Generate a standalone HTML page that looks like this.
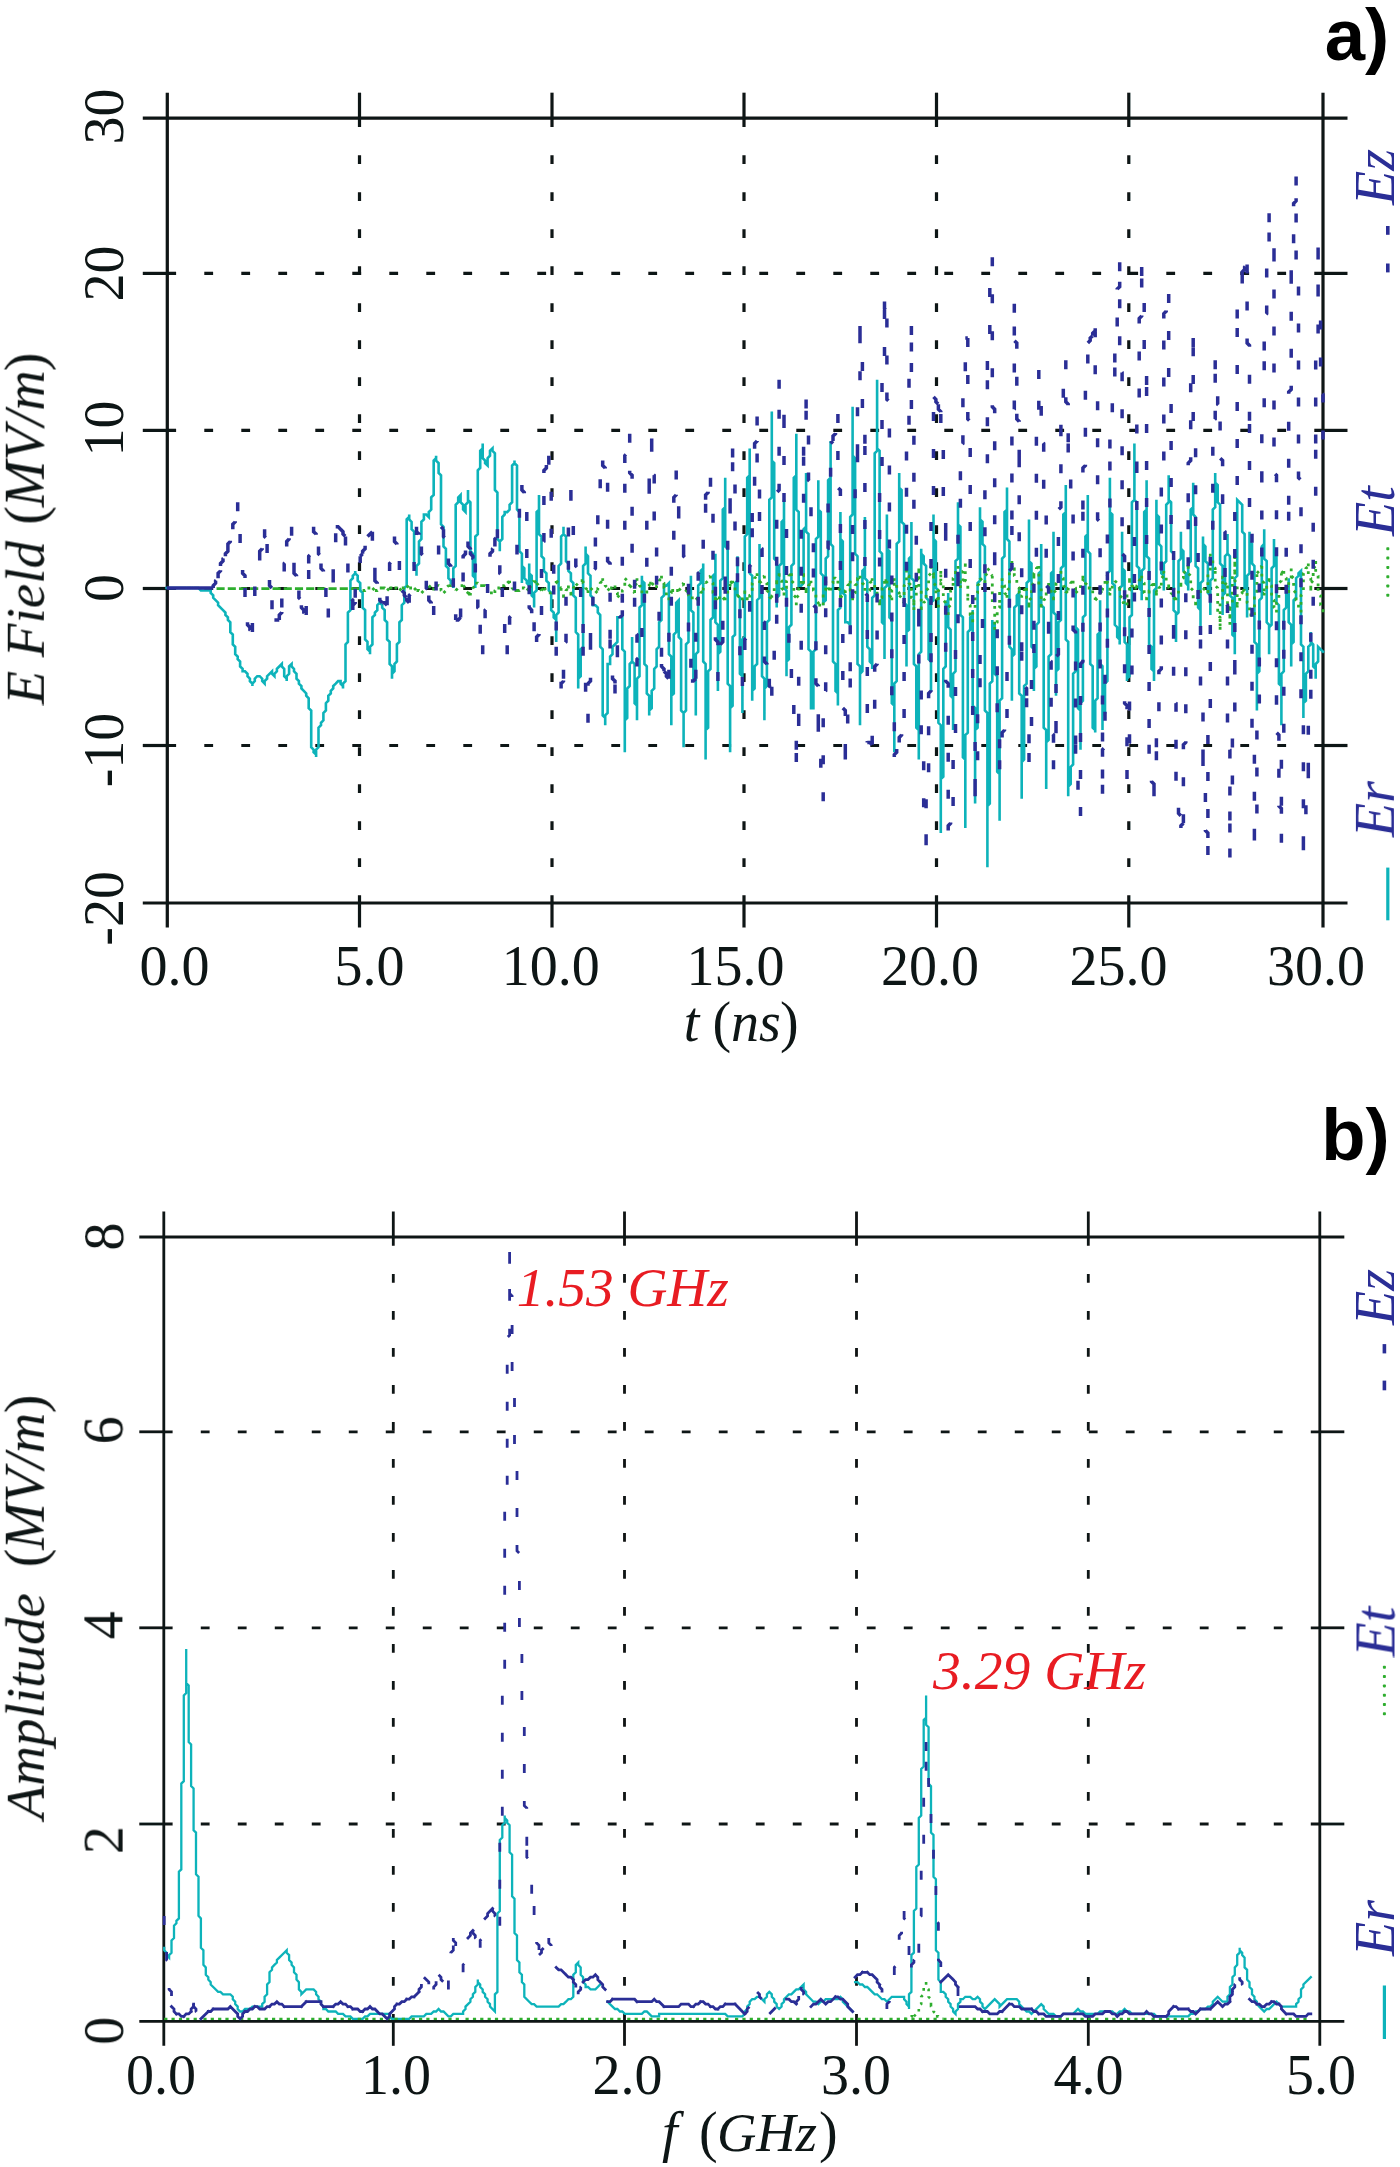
<!DOCTYPE html>
<html><head><meta charset="utf-8"><title>figure</title>
<style>html,body{margin:0;padding:0;background:#fff}svg{display:block}text{font-kerning:normal}</style>
</head><body>
<svg width="1400" height="2167" viewBox="0 0 1400 2167">
<rect width="1400" height="2167" fill="#ffffff"/>
<defs><filter id="soft" x="-2%" y="-2%" width="104%" height="104%"><feGaussianBlur stdDeviation="0.75"/></filter><filter id="soft3" x="-2%" y="-2%" width="104%" height="104%"><feGaussianBlur stdDeviation="0.4"/></filter><filter id="soft2" x="-2%" y="-2%" width="104%" height="104%"><feGaussianBlur stdDeviation="0.55"/></filter></defs>
<g id="gridA" filter="url(#soft2)">
<line x1="167.3" y1="273.4" x2="1323.0" y2="273.4" stroke="#0e1313" stroke-width="3.2" stroke-dasharray="8.8 28.20"/>
<line x1="167.3" y1="430.4" x2="1323.0" y2="430.4" stroke="#0e1313" stroke-width="3.2" stroke-dasharray="8.8 28.20"/>
<line x1="167.3" y1="588.5" x2="1323.0" y2="588.5" stroke="#0e1313" stroke-width="3.2" stroke-dasharray="8.8 28.20"/>
<line x1="167.3" y1="745.5" x2="1323.0" y2="745.5" stroke="#0e1313" stroke-width="3.2" stroke-dasharray="8.8 28.20"/>
<line x1="359.5" y1="118.2" x2="359.5" y2="903.0" stroke="#0e1313" stroke-width="3.2" stroke-dasharray="8.8 28.20"/>
<line x1="552.0" y1="118.2" x2="552.0" y2="903.0" stroke="#0e1313" stroke-width="3.2" stroke-dasharray="8.8 28.20"/>
<line x1="744.0" y1="118.2" x2="744.0" y2="903.0" stroke="#0e1313" stroke-width="3.2" stroke-dasharray="8.8 28.20"/>
<line x1="936.5" y1="118.2" x2="936.5" y2="903.0" stroke="#0e1313" stroke-width="3.2" stroke-dasharray="8.8 28.20"/>
<line x1="1128.8" y1="118.2" x2="1128.8" y2="903.0" stroke="#0e1313" stroke-width="3.2" stroke-dasharray="8.8 28.20"/>
<line x1="142.8" y1="118.2" x2="1347.5" y2="118.2" stroke="#0e1313" stroke-width="3.2"/>
<line x1="142.8" y1="903.0" x2="1347.5" y2="903.0" stroke="#0e1313" stroke-width="3.2"/>
<line x1="167.3" y1="92.7" x2="167.3" y2="927.5" stroke="#0e1313" stroke-width="3.2"/>
<line x1="1323.0" y1="92.7" x2="1323.0" y2="927.5" stroke="#0e1313" stroke-width="3.2"/>
<line x1="359.5" y1="92.7" x2="359.5" y2="118.2" stroke="#0e1313" stroke-width="3.2"/>
<line x1="359.5" y1="903.0" x2="359.5" y2="927.5" stroke="#0e1313" stroke-width="3.2"/>
<line x1="552.0" y1="92.7" x2="552.0" y2="118.2" stroke="#0e1313" stroke-width="3.2"/>
<line x1="552.0" y1="903.0" x2="552.0" y2="927.5" stroke="#0e1313" stroke-width="3.2"/>
<line x1="744.0" y1="92.7" x2="744.0" y2="118.2" stroke="#0e1313" stroke-width="3.2"/>
<line x1="744.0" y1="903.0" x2="744.0" y2="927.5" stroke="#0e1313" stroke-width="3.2"/>
<line x1="936.5" y1="92.7" x2="936.5" y2="118.2" stroke="#0e1313" stroke-width="3.2"/>
<line x1="936.5" y1="903.0" x2="936.5" y2="927.5" stroke="#0e1313" stroke-width="3.2"/>
<line x1="1128.8" y1="92.7" x2="1128.8" y2="118.2" stroke="#0e1313" stroke-width="3.2"/>
<line x1="1128.8" y1="903.0" x2="1128.8" y2="927.5" stroke="#0e1313" stroke-width="3.2"/>
<line x1="142.8" y1="273.4" x2="167.3" y2="273.4" stroke="#0e1313" stroke-width="3.2"/>
<line x1="1323.0" y1="273.4" x2="1347.5" y2="273.4" stroke="#0e1313" stroke-width="3.2"/>
<line x1="142.8" y1="430.4" x2="167.3" y2="430.4" stroke="#0e1313" stroke-width="3.2"/>
<line x1="1323.0" y1="430.4" x2="1347.5" y2="430.4" stroke="#0e1313" stroke-width="3.2"/>
<line x1="142.8" y1="588.5" x2="167.3" y2="588.5" stroke="#0e1313" stroke-width="3.2"/>
<line x1="1323.0" y1="588.5" x2="1347.5" y2="588.5" stroke="#0e1313" stroke-width="3.2"/>
<line x1="142.8" y1="745.5" x2="167.3" y2="745.5" stroke="#0e1313" stroke-width="3.2"/>
<line x1="1323.0" y1="745.5" x2="1347.5" y2="745.5" stroke="#0e1313" stroke-width="3.2"/>
</g>
<g id="gridB" filter="url(#soft2)">
<line x1="163.8" y1="1431.8" x2="1319.8" y2="1431.8" stroke="#0e1313" stroke-width="2.8" stroke-dasharray="8.8 28.20"/>
<line x1="163.8" y1="1627.8" x2="1319.8" y2="1627.8" stroke="#0e1313" stroke-width="2.8" stroke-dasharray="8.8 28.20"/>
<line x1="163.8" y1="1824.0" x2="1319.8" y2="1824.0" stroke="#0e1313" stroke-width="2.8" stroke-dasharray="8.8 28.20"/>
<line x1="393.3" y1="1237.0" x2="393.3" y2="2021.3" stroke="#0e1313" stroke-width="2.8" stroke-dasharray="8.8 28.20"/>
<line x1="624.5" y1="1237.0" x2="624.5" y2="2021.3" stroke="#0e1313" stroke-width="2.8" stroke-dasharray="8.8 28.20"/>
<line x1="856.5" y1="1237.0" x2="856.5" y2="2021.3" stroke="#0e1313" stroke-width="2.8" stroke-dasharray="8.8 28.20"/>
<line x1="1088.3" y1="1237.0" x2="1088.3" y2="2021.3" stroke="#0e1313" stroke-width="2.8" stroke-dasharray="8.8 28.20"/>
<line x1="139.3" y1="1237.0" x2="1344.3" y2="1237.0" stroke="#0e1313" stroke-width="2.8"/>
<line x1="139.3" y1="2021.3" x2="1344.3" y2="2021.3" stroke="#0e1313" stroke-width="2.8"/>
<line x1="163.8" y1="1211.5" x2="163.8" y2="2045.8" stroke="#0e1313" stroke-width="2.8"/>
<line x1="1319.8" y1="1211.5" x2="1319.8" y2="2045.8" stroke="#0e1313" stroke-width="2.8"/>
<line x1="393.3" y1="1211.5" x2="393.3" y2="1237.0" stroke="#0e1313" stroke-width="2.8"/>
<line x1="393.3" y1="2021.3" x2="393.3" y2="2045.8" stroke="#0e1313" stroke-width="2.8"/>
<line x1="624.5" y1="1211.5" x2="624.5" y2="1237.0" stroke="#0e1313" stroke-width="2.8"/>
<line x1="624.5" y1="2021.3" x2="624.5" y2="2045.8" stroke="#0e1313" stroke-width="2.8"/>
<line x1="856.5" y1="1211.5" x2="856.5" y2="1237.0" stroke="#0e1313" stroke-width="2.8"/>
<line x1="856.5" y1="2021.3" x2="856.5" y2="2045.8" stroke="#0e1313" stroke-width="2.8"/>
<line x1="1088.3" y1="1211.5" x2="1088.3" y2="1237.0" stroke="#0e1313" stroke-width="2.8"/>
<line x1="1088.3" y1="2021.3" x2="1088.3" y2="2045.8" stroke="#0e1313" stroke-width="2.8"/>
<line x1="139.3" y1="1431.8" x2="163.8" y2="1431.8" stroke="#0e1313" stroke-width="2.8"/>
<line x1="1319.8" y1="1431.8" x2="1344.3" y2="1431.8" stroke="#0e1313" stroke-width="2.8"/>
<line x1="139.3" y1="1627.8" x2="163.8" y2="1627.8" stroke="#0e1313" stroke-width="2.8"/>
<line x1="1319.8" y1="1627.8" x2="1344.3" y2="1627.8" stroke="#0e1313" stroke-width="2.8"/>
<line x1="139.3" y1="1824.0" x2="163.8" y2="1824.0" stroke="#0e1313" stroke-width="2.8"/>
<line x1="1319.8" y1="1824.0" x2="1344.3" y2="1824.0" stroke="#0e1313" stroke-width="2.8"/>
</g>
<g id="curves" filter="url(#soft)">
<path d="M166.6 588.0 L196.0 588.0 L198.5 588.0 L200.9 590.5 L210.7 590.5 L210.7 592.9 L213.2 595.4 L213.2 597.8 L215.6 600.2 L218.1 602.7 L218.1 605.2 L223.0 610.1 L225.4 612.5 L225.4 615.0 L227.9 617.4 L227.9 619.9 L230.3 622.3 L230.3 624.8 L230.3 632.1 L232.8 634.6 L232.8 639.5 L232.8 644.4 L235.2 646.8 L235.2 651.7 L235.2 654.2 L237.7 656.6 L237.7 659.1 L240.1 661.5 L240.1 666.4 L242.6 668.9 L242.6 671.3 L245.0 671.3 L247.5 673.8 L247.5 676.2 L249.9 678.7 L249.9 681.1 L252.4 683.6 L252.4 686.0 L252.4 683.6 L254.8 681.1 L254.8 678.7 L257.2 676.2 L259.7 676.2 L262.2 678.7 L262.2 681.1 L264.6 683.6 L264.6 681.1 L267.1 678.7 L267.1 676.2 L269.5 673.8 L272.0 671.3 L272.0 673.8 L274.4 676.2 L274.4 673.8 L276.9 671.3 L276.9 668.9 L281.8 664.0 L281.8 666.4 L284.2 668.9 L284.2 671.3 L284.2 676.2 L286.7 678.7 L286.7 681.1 L286.7 676.2 L289.1 673.8 L289.1 668.9 L289.1 666.4 L291.6 664.0 L291.6 666.4 L294.0 668.9 L294.0 671.3 L296.5 673.8 L296.5 678.7 L298.9 681.1 L298.9 683.6 L301.4 686.0 L301.4 688.5 L303.8 690.9 L306.2 693.4 L306.2 695.8 L308.7 698.2 L308.7 708.1 L311.2 710.5 L311.2 720.3 L311.2 727.7 L311.2 744.8 L311.2 747.2 L313.6 749.7 L313.6 752.2 L316.1 754.6 L316.1 757.1 L316.1 749.7 L318.5 747.2 L318.5 742.4 L318.5 727.7 L321.0 725.2 L321.0 722.8 L323.4 720.3 L323.4 713.0 L325.9 710.5 L325.9 705.6 L325.9 703.2 L328.3 700.7 L328.3 698.2 L328.3 695.8 L330.8 693.4 L330.8 690.9 L333.2 688.5 L333.2 686.0 L335.7 683.6 L338.1 681.1 L340.6 681.1 L340.6 683.6 L343.0 686.0 L343.0 688.5 L343.0 683.6 L345.5 681.1 L345.5 678.7 L345.5 661.5 L345.5 644.4 L347.9 641.9 L347.9 627.2 L347.9 612.5 L350.4 610.1 L350.4 597.8 L350.4 583.1 L350.4 580.7 L352.8 578.2 L352.8 575.8 L355.2 573.3 L355.2 570.9 L355.2 573.3 L357.7 575.8 L357.7 580.7 L360.2 583.1 L360.2 585.6 L360.2 590.5 L362.6 592.9 L362.6 597.8 L362.6 607.6 L365.1 610.1 L365.1 619.9 L365.1 637.0 L365.1 639.5 L367.5 641.9 L367.5 649.2 L370.0 651.7 L370.0 654.2 L370.0 646.8 L372.4 644.4 L372.4 637.0 L372.4 619.9 L372.4 617.4 L374.9 615.0 L374.9 612.5 L377.3 610.1 L377.3 607.6 L377.3 605.2 L379.8 602.7 L379.8 600.2 L379.8 602.7 L382.2 605.2 L382.2 607.6 L384.7 610.1 L384.7 612.5 L384.7 619.9 L387.1 622.3 L387.1 629.7 L387.1 639.5 L389.6 641.9 L389.6 649.2 L389.6 664.0 L392.0 666.4 L392.0 678.7 L392.0 673.8 L394.5 671.3 L394.5 668.9 L394.5 664.0 L396.9 661.5 L396.9 656.6 L396.9 644.4 L399.4 641.9 L399.4 632.1 L399.4 622.3 L401.8 619.9 L401.8 612.5 L401.8 605.2 L404.3 602.7 L404.3 597.8 L404.3 588.0 L406.7 585.6 L406.7 575.8 L406.7 551.2 L406.7 521.9 L406.7 519.4 L409.2 517.0 L409.2 514.5 L409.2 519.4 L411.6 521.9 L411.6 529.2 L414.1 531.7 L414.1 536.6 L414.1 556.2 L414.1 566.0 L416.5 568.4 L416.5 575.8 L416.5 566.0 L419.0 563.5 L419.0 553.7 L419.0 541.5 L421.4 539.0 L421.4 529.2 L421.4 521.9 L423.9 519.4 L423.9 514.5 L426.3 514.5 L428.8 517.0 L428.8 512.1 L431.2 509.6 L431.2 507.2 L431.2 497.4 L433.7 494.9 L433.7 485.1 L433.7 465.5 L433.7 460.6 L436.1 458.2 L436.1 455.7 L436.1 460.6 L438.6 463.1 L438.6 465.5 L438.6 472.9 L441.0 475.3 L441.0 482.7 L441.0 514.5 L441.0 524.3 L443.5 526.8 L443.5 534.1 L443.5 546.4 L445.9 548.8 L445.9 558.6 L445.9 566.0 L448.4 568.4 L448.4 575.8 L448.4 578.2 L450.8 580.7 L450.8 583.1 L453.3 585.6 L453.3 588.0 L453.3 568.4 L455.7 566.0 L455.7 548.8 L455.7 512.1 L455.7 504.7 L458.2 502.3 L458.2 497.4 L460.6 494.9 L460.6 502.3 L463.1 504.7 L463.1 509.6 L465.5 512.1 L465.5 504.7 L468.0 502.3 L468.0 497.4 L468.0 490.0 L468.0 499.8 L470.4 502.3 L470.4 512.1 L470.4 539.0 L470.4 551.2 L472.9 553.7 L472.9 566.0 L472.9 575.8 L475.3 578.2 L475.3 588.0 L475.3 558.6 L475.3 536.6 L477.8 534.1 L477.8 512.1 L477.8 482.7 L477.8 470.4 L480.2 468.0 L480.2 458.2 L480.2 450.8 L482.7 448.4 L482.7 443.5 L482.7 455.7 L482.7 458.2 L485.1 460.6 L485.1 463.1 L487.6 465.5 L487.6 458.2 L490.0 455.7 L490.0 450.8 L492.5 448.4 L492.5 450.8 L494.9 453.3 L494.9 455.7 L494.9 490.0 L497.4 492.5 L497.4 526.8 L497.4 539.0 L499.8 541.5 L499.8 551.2 L499.8 541.5 L502.3 539.0 L502.3 529.2 L502.3 519.4 L502.3 517.0 L504.7 514.5 L504.7 512.1 L507.2 512.1 L509.6 509.6 L509.6 504.7 L512.1 502.3 L512.1 497.4 L512.1 470.4 L512.1 465.5 L514.5 463.1 L514.5 460.6 L514.5 463.1 L517.0 465.5 L517.0 468.0 L517.0 497.4 L517.0 509.6 L519.4 512.1 L519.4 521.9 L519.4 551.2 L521.9 553.7 L521.9 583.1 L521.9 553.7 L521.9 566.0 L524.3 568.4 L524.3 578.2 L526.8 580.7 L526.8 583.1 L529.2 585.6 L529.2 563.5 L529.2 573.3 L531.7 575.8 L531.7 585.6 L531.7 595.4 L534.1 597.8 L534.1 607.6 L534.1 592.9 L536.6 590.5 L536.6 575.8 L536.6 529.2 L536.6 512.1 L539.0 509.6 L539.0 494.9 L539.0 521.9 L539.0 534.1 L541.5 536.6 L541.5 548.8 L541.5 556.2 L543.9 558.6 L543.9 566.0 L543.9 570.9 L546.4 573.3 L546.4 580.7 L548.8 583.1 L548.8 588.0 L548.8 590.5 L551.2 592.9 L551.2 607.6 L551.2 610.1 L553.7 612.5 L553.7 617.4 L556.2 619.9 L556.2 622.3 L556.2 641.9 L556.2 615.0 L558.6 612.5 L558.6 585.6 L558.6 566.0 L561.1 563.5 L561.1 543.9 L561.1 536.6 L563.5 534.1 L563.5 526.8 L563.5 534.1 L566.0 536.6 L566.0 541.5 L566.0 558.6 L566.0 561.1 L568.4 563.5 L568.4 570.9 L570.9 573.3 L570.9 575.8 L570.9 580.7 L573.3 583.1 L573.3 585.6 L573.3 595.4 L575.8 597.8 L575.8 607.6 L575.8 632.1 L578.2 634.6 L578.2 659.1 L578.2 688.5 L578.2 678.7 L580.7 676.2 L580.7 668.9 L580.7 649.2 L583.1 646.8 L583.1 629.7 L583.1 585.6 L583.1 566.0 L585.6 563.5 L585.6 546.4 L585.6 553.7 L588.0 556.2 L588.0 563.5 L588.0 573.3 L590.5 575.8 L590.5 585.6 L590.5 595.4 L592.9 597.8 L592.9 605.2 L595.4 605.2 L597.8 607.6 L597.8 612.5 L600.2 615.0 L600.2 619.9 L600.2 646.8 L602.7 649.2 L602.7 673.8 L602.7 708.1 L602.7 715.4 L605.2 717.9 L605.2 725.2 L605.2 715.4 L607.6 713.0 L607.6 705.6 L607.6 664.0 L610.1 664.0 L610.1 656.6 L612.5 654.2 L612.5 646.8 L617.4 641.9 L617.4 617.4 L619.9 617.4 L622.3 615.0 L622.3 649.2 L624.8 651.7 L624.8 686.0 L624.8 752.2 L624.8 720.3 L627.2 717.9 L627.2 688.5 L629.7 686.0 L629.7 664.0 L632.1 661.5 L632.1 639.5 L632.1 637.0 L632.1 661.5 L634.6 664.0 L634.6 688.5 L634.6 703.2 L637.0 705.6 L637.0 720.3 L637.0 678.7 L639.5 676.2 L639.5 637.0 L639.5 607.6 L641.9 605.2 L641.9 575.8 L641.9 580.7 L644.4 583.1 L644.4 585.6 L644.4 656.6 L644.4 664.0 L646.8 666.4 L646.8 673.8 L646.8 693.4 L649.2 695.8 L649.2 715.4 L649.2 710.5 L651.7 708.1 L651.7 705.6 L651.7 690.9 L654.2 688.5 L654.2 673.8 L654.2 668.9 L656.6 666.4 L656.6 664.0 L656.6 649.2 L659.1 646.8 L659.1 632.1 L659.1 622.3 L661.5 619.9 L661.5 597.8 L664.0 595.4 L664.0 585.6 L666.4 585.6 L668.9 583.1 L668.9 654.2 L671.3 656.6 L671.3 725.2 L671.3 695.8 L673.8 693.4 L673.8 634.6 L676.2 632.1 L676.2 602.7 L678.7 600.2 L678.7 637.0 L681.1 639.5 L681.1 710.5 L683.6 713.0 L683.6 747.2 L683.6 713.0 L686.0 710.5 L686.0 644.4 L688.5 641.9 L688.5 610.1 L688.5 592.9 L690.9 590.5 L690.9 575.8 L690.9 610.1 L693.4 612.5 L693.4 678.7 L695.8 681.1 L695.8 715.4 L695.8 654.2 L698.2 651.7 L698.2 590.5 L698.2 585.6 L700.7 583.1 L700.7 570.9 L703.2 568.4 L703.2 563.5 L703.2 661.5 L705.6 664.0 L705.6 759.5 L705.6 730.1 L708.1 727.7 L708.1 671.3 L710.5 668.9 L710.5 639.5 L710.5 619.9 L713.0 617.4 L713.0 575.8 L715.4 573.3 L715.4 553.7 L715.4 622.3 L717.9 624.8 L717.9 690.9 L717.9 654.2 L720.3 651.7 L720.3 580.7 L722.8 578.2 L722.8 541.5 L722.8 509.6 L725.2 507.2 L725.2 477.8 L725.2 546.4 L727.7 548.8 L727.7 683.6 L730.1 686.0 L730.1 752.2 L730.1 708.1 L732.6 705.6 L732.6 664.0 L732.6 637.0 L735.0 634.6 L735.0 583.1 L737.5 580.7 L737.5 556.2 L737.5 595.4 L739.9 597.8 L739.9 673.8 L742.4 676.2 L742.4 713.0 L742.4 639.5 L744.8 637.0 L744.8 566.0 L744.8 536.6 L747.2 534.1 L747.2 477.8 L749.7 475.3 L749.7 448.4 L749.7 573.3 L752.2 575.8 L752.2 700.7 L752.2 690.9 L754.6 688.5 L754.6 666.4 L757.1 664.0 L757.1 654.2 L757.1 600.2 L759.5 597.8 L759.5 543.9 L759.5 588.0 L762.0 590.5 L762.0 676.2 L764.4 678.7 L764.4 720.3 L764.4 688.5 L766.9 686.0 L766.9 622.3 L769.3 619.9 L769.3 588.0 L769.3 499.8 L771.8 497.4 L771.8 411.6 L771.8 460.6 L774.2 463.1 L774.2 558.6 L776.7 561.1 L776.7 607.6 L776.7 597.8 L779.1 595.4 L779.1 588.0 L779.1 566.0 L781.6 563.5 L781.6 521.9 L784.0 519.4 L784.0 499.8 L784.0 588.0 L786.5 590.5 L786.5 676.2 L786.5 661.5 L788.9 659.1 L788.9 627.2 L791.4 624.8 L791.4 610.1 L791.4 566.0 L793.8 563.5 L793.8 477.8 L796.3 475.3 L796.3 433.7 L796.3 509.6 L798.7 512.1 L798.7 585.6 L801.2 585.6 L803.6 583.1 L803.6 529.2 L806.1 526.8 L806.1 472.9 L806.1 531.7 L808.5 534.1 L808.5 649.2 L811.0 651.7 L811.0 708.1 L813.4 708.1 L813.4 651.7 L815.9 649.2 L815.9 539.0 L818.3 536.6 L818.3 480.2 L818.3 509.6 L820.8 512.1 L820.8 573.3 L823.2 575.8 L823.2 605.2 L823.2 602.7 L825.7 600.2 L825.7 597.8 L825.7 558.6 L828.1 556.2 L828.1 480.2 L830.6 477.8 L830.6 441.0 L830.6 543.9 L833.0 546.4 L833.0 649.2 L833.0 661.5 L835.5 664.0 L835.5 690.9 L837.9 693.4 L837.9 705.6 L837.9 610.1 L840.4 607.6 L840.4 512.1 L840.4 539.0 L842.8 541.5 L842.8 592.9 L845.3 595.4 L845.3 622.3 L847.7 622.3 L850.2 624.8 L850.2 517.0 L852.6 514.5 L852.6 406.7 L852.6 455.7 L855.1 458.2 L855.1 553.7 L857.5 556.2 L857.5 602.7 L857.5 664.0 L860.0 666.4 L860.0 725.2 L860.0 673.8 L862.4 671.3 L862.4 570.9 L864.9 568.4 L864.9 517.0 L864.9 578.2 L867.3 580.7 L867.3 641.9 L867.3 646.8 L869.8 649.2 L869.8 661.5 L872.2 664.0 L872.2 668.9 L872.2 597.8 L874.7 595.4 L874.7 453.3 L877.1 450.8 L877.1 379.8 L877.1 448.4 L879.6 450.8 L879.6 517.0 L879.6 551.2 L882.0 553.7 L882.0 622.3 L884.5 624.8 L884.5 659.1 L884.5 588.0 L886.9 585.6 L886.9 514.5 L886.9 548.8 L889.4 551.2 L889.4 617.4 L891.8 619.9 L891.8 654.2 L891.8 703.2 L894.3 705.6 L894.3 752.2 L894.3 683.6 L896.7 681.1 L896.7 543.9 L899.2 541.5 L899.2 472.9 L899.2 487.6 L901.6 490.0 L901.6 521.9 L904.1 524.3 L904.1 539.0 L904.1 602.7 L906.5 605.2 L906.5 666.4 L906.5 632.1 L909.0 629.7 L909.0 558.6 L911.4 556.2 L911.4 521.9 L911.4 578.2 L913.9 580.7 L913.9 634.6 L913.9 664.0 L916.3 666.4 L916.3 727.7 L918.8 730.1 L918.8 759.5 L918.8 654.2 L921.2 651.7 L921.2 548.8 L921.2 553.7 L923.7 556.2 L923.7 563.5 L926.1 566.0 L926.1 568.4 L926.1 597.8 L928.6 600.2 L928.6 659.1 L931.0 661.5 L931.0 690.9 L931.0 602.7 L933.5 600.2 L933.5 514.5 L933.5 539.0 L935.9 541.5 L935.9 588.0 L938.4 590.5 L938.4 612.5 L938.4 722.8 L940.8 725.2 L940.8 833.0 L940.8 779.1 L943.3 776.7 L943.3 668.9 L945.7 666.4 L945.7 612.5 L945.7 602.7 L948.2 600.2 L948.2 592.9 L948.2 627.2 L950.6 629.7 L950.6 695.8 L953.1 698.2 L953.1 730.1 L953.1 673.8 L955.5 671.3 L955.5 561.1 L958.0 558.6 L958.0 502.3 L958.0 524.3 L960.4 526.8 L960.4 546.4 L960.4 615.0 L962.9 617.4 L962.9 757.1 L965.3 759.5 L965.3 828.1 L965.3 735.0 L967.8 732.6 L967.8 639.5 L967.8 632.1 L970.2 629.7 L970.2 617.4 L972.7 615.0 L972.7 610.1 L972.7 705.6 L975.1 708.1 L975.1 803.6 L975.1 730.1 L977.6 727.7 L977.6 583.1 L980.0 580.7 L980.0 507.2 L980.0 519.4 L982.5 521.9 L982.5 543.9 L984.9 546.4 L984.9 556.2 L984.9 710.5 L987.4 713.0 L987.4 867.3 L987.4 806.1 L989.8 803.6 L989.8 683.6 L992.3 681.1 L992.3 619.9 L992.3 622.3 L994.7 624.8 L994.7 673.8 L997.2 676.2 L997.2 771.8 L999.6 774.2 L999.6 820.8 L999.6 700.7 L1002.1 698.2 L1002.1 580.7 L1002.1 558.6 L1004.5 556.2 L1004.5 512.1 L1007.0 509.6 L1007.0 487.6 L1007.0 539.0 L1009.4 541.5 L1009.4 646.8 L1011.9 649.2 L1011.9 700.7 L1011.9 656.6 L1014.3 654.2 L1014.3 612.5 L1014.3 607.6 L1016.8 605.2 L1016.8 595.4 L1019.2 592.9 L1019.2 588.0 L1019.2 693.4 L1021.7 695.8 L1021.7 798.7 L1021.7 762.0 L1024.1 759.5 L1024.1 686.0 L1026.6 683.6 L1026.6 646.8 L1026.6 583.1 L1029.0 580.7 L1029.0 519.4 L1029.0 561.1 L1031.5 563.5 L1031.5 646.8 L1033.9 649.2 L1033.9 690.9 L1033.9 668.9 L1036.4 666.4 L1036.4 624.8 L1038.8 622.3 L1038.8 602.7 L1038.8 573.3 L1041.2 570.9 L1041.2 543.9 L1041.2 605.2 L1043.7 607.6 L1043.7 727.7 L1046.2 730.1 L1046.2 788.9 L1046.2 742.4 L1048.6 739.9 L1048.6 695.8 L1048.6 656.6 L1051.1 654.2 L1051.1 573.3 L1053.5 570.9 L1053.5 531.7 L1053.5 612.5 L1056.0 615.0 L1056.0 695.8 L1056.0 671.3 L1058.4 668.9 L1058.4 622.3 L1060.9 619.9 L1060.9 595.4 L1060.9 568.4 L1063.3 566.0 L1063.3 514.5 L1065.8 512.1 L1065.8 485.1 L1065.8 639.5 L1068.2 641.9 L1068.2 796.3 L1068.2 786.5 L1070.7 784.0 L1070.7 766.9 L1073.1 764.4 L1073.1 757.1 L1073.1 673.8 L1075.6 671.3 L1075.6 588.0 L1075.6 627.2 L1078.0 629.7 L1078.0 708.1 L1080.5 710.5 L1080.5 749.7 L1080.5 703.2 L1082.9 700.7 L1082.9 656.6 L1082.9 617.4 L1085.4 615.0 L1085.4 536.6 L1087.8 534.1 L1087.8 494.9 L1087.8 551.2 L1090.2 553.7 L1090.2 664.0 L1092.7 666.4 L1092.7 722.8 L1092.7 727.7 L1095.2 730.1 L1095.2 732.6 L1095.2 700.7 L1097.6 698.2 L1097.6 634.6 L1100.1 632.1 L1100.1 600.2 L1100.1 664.0 L1102.5 666.4 L1102.5 730.1 L1102.5 715.4 L1105.0 713.0 L1105.0 683.6 L1107.4 681.1 L1107.4 666.4 L1107.4 573.3 L1109.9 570.9 L1109.9 477.8 L1109.9 512.1 L1112.3 514.5 L1112.3 583.1 L1114.8 585.6 L1114.8 619.9 L1114.8 624.8 L1117.2 627.2 L1117.2 637.0 L1119.7 639.5 L1119.7 644.4 L1119.7 588.0 L1122.1 585.6 L1122.1 531.7 L1122.1 568.4 L1124.6 570.9 L1124.6 641.9 L1127.0 644.4 L1127.0 681.1 L1127.0 678.7 L1129.5 676.2 L1129.5 673.8 L1129.5 617.4 L1131.9 615.0 L1131.9 502.3 L1134.4 499.8 L1134.4 443.5 L1134.4 499.8 L1136.8 502.3 L1136.8 556.2 L1136.8 566.0 L1139.2 568.4 L1139.2 588.0 L1141.7 590.5 L1141.7 600.2 L1141.7 570.9 L1144.2 568.4 L1144.2 512.1 L1146.6 509.6 L1146.6 480.2 L1146.6 556.2 L1149.1 558.6 L1149.1 634.6 L1149.1 644.4 L1151.5 646.8 L1151.5 668.9 L1154.0 671.3 L1154.0 681.1 L1154.0 590.5 L1156.4 588.0 L1156.4 499.8 L1156.4 514.5 L1158.9 517.0 L1158.9 543.9 L1161.3 546.4 L1161.3 558.6 L1161.3 573.3 L1163.8 575.8 L1163.8 590.5 L1163.8 563.5 L1166.2 561.1 L1166.2 504.7 L1168.7 502.3 L1168.7 475.3 L1168.7 499.8 L1171.1 502.3 L1171.1 551.2 L1173.6 553.7 L1173.6 578.2 L1173.6 610.1 L1176.0 612.5 L1176.0 641.9 L1176.0 615.0 L1178.5 612.5 L1178.5 561.1 L1180.9 558.6 L1180.9 531.7 L1180.9 548.8 L1183.4 551.2 L1183.4 566.0 L1183.4 570.9 L1185.8 573.3 L1185.8 583.1 L1188.2 585.6 L1188.2 590.5 L1188.2 563.5 L1190.7 561.1 L1190.7 509.6 L1193.2 507.2 L1193.2 482.7 L1193.2 514.5 L1195.6 517.0 L1195.6 546.4 L1195.6 566.0 L1198.1 568.4 L1198.1 607.6 L1200.5 610.1 L1200.5 629.7 L1200.5 583.1 L1203.0 580.7 L1203.0 536.6 L1203.0 543.9 L1205.4 546.4 L1205.4 561.1 L1207.9 563.5 L1207.9 570.9 L1207.9 592.9 L1210.3 595.4 L1210.3 615.0 L1210.3 580.7 L1212.8 578.2 L1212.8 509.6 L1215.2 507.2 L1215.2 472.9 L1215.2 482.7 L1217.7 485.1 L1217.7 502.3 L1220.1 504.7 L1220.1 512.1 L1220.1 563.5 L1222.6 566.0 L1222.6 615.0 L1222.6 595.4 L1225.0 592.9 L1225.0 556.2 L1227.5 553.7 L1227.5 534.1 L1227.5 553.7 L1229.9 556.2 L1229.9 575.8 L1229.9 595.4 L1232.4 597.8 L1232.4 634.6 L1234.8 637.0 L1234.8 654.2 L1234.8 578.2 L1237.2 575.8 L1237.2 499.8 L1242.2 504.7 L1242.2 531.7 L1244.6 534.1 L1244.6 588.0 L1247.1 590.5 L1247.1 617.4 L1247.1 575.8 L1249.5 573.3 L1249.5 531.7 L1249.5 541.5 L1252.0 543.9 L1252.0 563.5 L1254.4 566.0 L1254.4 575.8 L1254.4 641.9 L1256.9 644.4 L1256.9 710.5 L1256.9 673.8 L1259.3 671.3 L1259.3 600.2 L1261.8 597.8 L1261.8 563.5 L1261.8 546.4 L1264.2 543.9 L1264.2 529.2 L1264.2 558.6 L1266.7 561.1 L1266.7 622.3 L1269.1 624.8 L1269.1 654.2 L1269.1 627.2 L1271.6 624.8 L1271.6 568.4 L1274.0 566.0 L1274.0 539.0 L1274.0 551.2 L1276.5 553.7 L1276.5 563.5 L1276.5 602.7 L1278.9 605.2 L1278.9 683.6 L1281.4 686.0 L1281.4 725.2 L1281.4 673.8 L1283.8 671.3 L1283.8 619.9 L1283.8 610.1 L1286.2 607.6 L1286.2 590.5 L1288.7 588.0 L1288.7 578.2 L1288.7 622.3 L1291.2 624.8 L1291.2 666.4 L1291.2 644.4 L1293.6 641.9 L1293.6 600.2 L1296.1 597.8 L1296.1 578.2 L1298.5 575.8 L1298.5 573.3 L1301.0 570.9 L1301.0 644.4 L1303.4 646.8 L1303.4 717.9 L1303.4 703.2 L1305.9 700.7 L1305.9 673.8 L1308.3 671.3 L1308.3 659.1 L1308.3 646.8 L1310.8 644.4 L1310.8 632.1 L1310.8 641.9 L1313.2 644.4 L1313.2 666.4 L1315.7 668.9 L1315.7 678.7 L1315.7 664.0 L1318.1 661.5 L1318.1 646.8 L1323.0 651.7" fill="none" stroke="#0ab3ba" stroke-width="2.6" stroke-linejoin="miter" stroke-linecap="square"/>
<path d="M218.0 588.6 L362.0 588.6" fill="none" stroke="#2fae2f" stroke-width="2.9" stroke-linejoin="miter" stroke-linecap="square" stroke-dasharray="5.2 6"/>
<path d="M362.6 590.5L365.1 590.5L367.5 588.0M367.5 588.0L372.4 588.0M372.4 588.0L374.9 590.5M374.9 590.5L377.3 590.5L379.8 588.0M379.8 588.0L382.2 588.0M382.2 588.0L384.7 588.0L387.1 590.5M387.1 590.5L389.6 588.0M389.6 588.0L394.5 588.0M394.5 588.0L396.9 588.0L399.4 590.5M399.4 590.5L401.8 588.0M401.8 588.0L404.3 588.0L406.7 585.6M406.7 585.6L409.2 588.0M409.2 588.0L414.1 588.0M414.1 588.0L416.5 590.5M416.5 590.5L419.0 590.5L421.4 592.9M421.4 592.9L426.3 588.0M426.3 588.0L428.8 585.6M428.8 585.6L433.7 590.5M433.7 590.5L433.7 588.0L436.1 585.6M436.1 585.6L438.6 585.6L441.0 588.0M441.0 588.0L441.0 590.5L443.5 592.9M443.5 592.9L445.9 590.5L445.9 588.0L448.4 585.6M448.4 585.6L450.8 585.6L453.3 583.1M453.3 583.1L453.3 585.6L455.7 588.0L455.7 590.5M455.7 590.5L460.6 585.6M460.6 585.6L463.1 585.6M463.1 585.6L465.5 588.0L465.5 590.5L468.0 592.9M468.0 592.9L470.4 595.4M470.4 595.4L470.4 592.9L472.9 590.5L472.9 588.0L475.3 585.6L475.3 583.1M475.3 583.1L477.8 583.1L480.2 585.6M480.2 585.6L482.7 585.6M482.7 585.6L485.1 585.6L487.6 588.0M487.6 588.0L487.6 590.5L490.0 592.9M490.0 592.9L494.9 592.9M494.9 592.9L494.9 590.5L497.4 588.0M497.4 588.0L499.8 588.0L502.3 585.6M502.3 585.6L504.7 585.6L507.2 583.1M507.2 583.1L509.6 580.7M509.6 580.7L509.6 583.1L512.1 585.6L512.1 588.0L514.5 590.5M514.5 590.5L517.0 590.5M517.0 590.5L519.4 590.5L521.9 588.0M521.9 588.0L524.3 588.0L526.8 590.5M526.8 590.5L529.2 588.0M529.2 588.0L531.7 585.6L531.7 583.1L534.1 580.7M534.1 580.7L536.6 583.1M536.6 583.1L539.0 585.6L539.0 588.0L541.5 590.5M541.5 590.5L543.9 588.0M543.9 588.0L548.8 592.9M548.8 592.9L551.2 592.9L553.7 590.5M553.7 590.5L553.7 585.6L556.2 583.1L556.2 580.7M556.2 580.7L558.6 583.1L558.6 585.6L561.1 588.0M561.1 588.0L561.1 592.9L563.5 595.4L563.5 597.8M563.5 597.8L563.5 595.4L566.0 592.9L566.0 590.5L568.4 588.0L568.4 585.6M568.4 585.6L568.4 590.5L570.9 592.9L570.9 595.4M570.9 595.4L570.9 592.9L573.3 590.5L573.3 588.0L575.8 585.6M575.8 585.6L580.7 580.7M580.7 580.7L583.1 580.7M583.1 580.7L583.1 583.1L585.6 585.6L585.6 588.0L588.0 590.5L588.0 592.9M588.0 592.9L588.0 590.5L590.5 588.0M590.5 588.0L595.4 592.9M595.4 592.9L597.8 590.5M597.8 590.5L597.8 588.0L600.2 585.6L600.2 583.1L602.7 580.7L602.7 578.2M602.7 578.2L602.7 580.7L605.2 583.1L605.2 585.6L607.6 588.0L607.6 590.5M607.6 590.5L610.1 588.0M610.1 588.0L612.5 588.0L615.0 585.6M615.0 585.6L615.0 590.5L617.4 592.9L617.4 595.4M617.4 595.4L622.3 600.2M622.3 600.2L622.3 590.5L624.8 588.0L624.8 578.2M624.8 578.2L627.2 580.7L627.2 583.1L629.7 585.6M629.7 585.6L632.1 588.0L632.1 590.5L634.6 592.9M634.6 592.9L634.6 585.6L637.0 583.1L637.0 578.2M637.0 578.2L637.0 580.7L639.5 583.1L639.5 585.6L641.9 588.0L641.9 590.5M641.9 590.5L641.9 595.4L644.4 597.8L644.4 600.2M644.4 600.2L644.4 597.8L646.8 595.4L646.8 588.0L649.2 585.6L649.2 583.1M649.2 583.1L651.7 583.1M651.7 583.1L656.6 588.0M656.6 588.0L656.6 585.6L659.1 583.1L659.1 580.7L661.5 578.2L661.5 575.8M661.5 575.8L661.5 580.7L664.0 583.1L664.0 585.6M664.0 585.6L664.0 588.0L666.4 590.5L666.4 595.4L668.9 597.8L668.9 600.2M668.9 600.2L668.9 595.4L671.3 592.9L671.3 590.5M671.3 590.5L676.2 590.5M676.2 590.5L678.7 590.5M678.7 590.5L681.1 588.0L681.1 585.6L683.6 583.1M683.6 583.1L683.6 585.6L686.0 588.0L686.0 590.5L688.5 592.9M688.5 592.9L688.5 595.4L690.9 597.8M690.9 597.8L695.8 597.8M695.8 597.8L698.2 600.2M698.2 600.2L698.2 597.8L700.7 595.4L700.7 592.9L703.2 590.5M703.2 590.5L703.2 588.0L705.6 585.6L705.6 583.1M705.6 583.1L708.1 580.7L708.1 578.2L710.5 575.8M710.5 575.8L710.5 580.7L713.0 583.1L713.0 592.9L715.4 595.4L715.4 600.2M715.4 600.2L717.9 597.8M717.9 597.8L722.8 597.8M722.8 597.8L725.2 600.2M725.2 600.2L725.2 597.8L727.7 595.4L727.7 588.0L730.1 585.6L730.1 583.1M730.1 583.1L732.6 580.7M732.6 580.7L732.6 583.1L735.0 585.6L735.0 590.5L737.5 592.9L737.5 595.4M737.5 595.4L742.4 600.2M742.4 600.2L742.4 595.4L744.8 592.9L744.8 590.5M744.8 590.5L744.8 592.9L747.2 595.4L747.2 600.2L749.7 602.7L749.7 605.2M749.7 605.2L749.7 595.4L752.2 592.9L752.2 585.6M752.2 585.6L752.2 583.1L754.6 580.7L754.6 578.2L757.1 575.8L757.1 573.3M757.1 573.3L757.1 578.2L759.5 580.7L759.5 583.1M759.5 583.1L762.0 580.7L762.0 578.2L764.4 575.8M764.4 575.8L764.4 580.7L766.9 583.1L766.9 590.5L769.3 592.9L769.3 597.8M769.3 597.8L771.8 597.8M771.8 597.8L771.8 595.4L774.2 592.9L774.2 588.0L776.7 585.6L776.7 583.1M776.7 583.1L776.7 578.2L779.1 575.8L779.1 573.3M779.1 573.3L779.1 578.2L781.6 580.7L781.6 588.0L784.0 590.5L784.0 595.4M784.0 595.4L784.0 590.5L786.5 588.0L786.5 583.1M786.5 583.1L786.5 580.7L788.9 578.2L788.9 575.8L791.4 573.3M791.4 573.3L791.4 580.7L793.8 583.1L793.8 595.4L796.3 597.8L796.3 605.2M796.3 605.2L796.3 597.8L798.7 595.4L798.7 590.5M798.7 590.5L798.7 588.0L801.2 585.6L801.2 578.2L803.6 575.8L803.6 573.3M803.6 573.3L803.6 583.1L806.1 585.6L806.1 592.9M806.1 592.9L806.1 590.5L808.5 588.0L808.5 585.6L811.0 583.1L811.0 580.7M811.0 580.7L811.0 583.1L813.4 585.6L813.4 588.0M813.4 588.0L813.4 590.5L815.9 592.9L815.9 600.2L818.3 602.7L818.3 605.2M818.3 605.2L823.2 605.2M823.2 605.2L823.2 592.9L825.7 590.5L825.7 580.7M825.7 580.7L825.7 583.1L828.1 585.6L828.1 588.0L830.6 590.5M830.6 590.5L830.6 585.6L833.0 583.1L833.0 578.2M833.0 578.2L835.5 578.2L837.9 580.7M837.9 580.7L837.9 588.0L840.4 590.5L840.4 597.8M840.4 597.8L845.3 592.9M845.3 592.9L845.3 590.5L847.7 588.0L847.7 585.6L850.2 583.1L850.2 580.7M850.2 580.7L850.2 590.5L852.6 592.9L852.6 600.2M852.6 600.2L852.6 595.4L855.1 592.9L855.1 585.6L857.5 583.1L857.5 580.7M857.5 580.7L857.5 578.2L860.0 575.8M860.0 575.8L860.0 578.2L862.4 580.7L862.4 583.1L864.9 585.6L864.9 588.0M864.9 588.0L864.9 592.9L867.3 595.4L867.3 597.8M867.3 597.8L867.3 592.9L869.8 590.5L869.8 583.1L872.2 580.7L872.2 578.2M872.2 578.2L872.2 580.7L874.7 583.1L874.7 588.0L877.1 590.5L877.1 592.9M877.1 592.9L877.1 597.8L879.6 600.2L879.6 605.2M879.6 605.2L879.6 600.2L882.0 597.8L882.0 588.0L884.5 585.6L884.5 580.7M884.5 580.7L886.9 580.7M886.9 580.7L886.9 585.6L889.4 588.0L889.4 595.4L891.8 597.8L891.8 600.2M891.8 600.2L891.8 590.5L894.3 588.0L894.3 578.2M894.3 578.2L894.3 580.7L896.7 583.1L896.7 590.5L899.2 592.9L899.2 595.4M899.2 595.4L901.6 597.8L901.6 600.2L904.1 602.7M904.1 602.7L904.1 585.6L906.5 583.1L906.5 568.4M906.5 568.4L906.5 573.3L909.0 575.8L909.0 583.1L911.4 585.6L911.4 588.0M911.4 588.0L911.4 597.8L913.9 600.2L913.9 610.1M913.9 610.1L913.9 600.2L916.3 597.8L916.3 580.7L918.8 578.2L918.8 568.4M918.8 568.4L918.8 588.0L921.2 590.5L921.2 610.1M921.2 610.1L921.2 607.6L923.7 605.2L923.7 602.7L926.1 600.2L926.1 597.8M926.1 597.8L926.1 590.5L928.6 588.0L928.6 575.8L931.0 573.3L931.0 566.0M931.0 566.0L931.0 570.9L933.5 573.3L933.5 575.8M933.5 575.8L933.5 583.1L935.9 585.6L935.9 597.8L938.4 600.2L938.4 607.6M938.4 607.6L938.4 590.5L940.8 588.0L940.8 570.9M940.8 570.9L940.8 580.7L943.3 583.1L943.3 600.2L945.7 602.7L945.7 612.5M945.7 612.5L948.2 615.0M948.2 615.0L948.2 607.6L950.6 605.2L950.6 590.5L953.1 588.0L953.1 580.7M953.1 580.7L953.1 578.2L955.5 575.8L955.5 570.9L958.0 568.4L958.0 566.0M958.0 566.0L958.0 575.8L960.4 578.2L960.4 588.0M960.4 588.0L960.4 583.1L962.9 580.7L962.9 570.9L965.3 568.4L965.3 563.5M965.3 563.5L965.3 580.7L967.8 583.1L967.8 597.8M967.8 597.8L967.8 602.7L970.2 605.2L970.2 615.0L972.7 617.4L972.7 622.3M972.7 622.3L972.7 612.5L975.1 610.1L975.1 600.2M975.1 600.2L975.1 595.4L977.6 592.9L977.6 585.6L980.0 583.1L980.0 578.2M980.0 578.2L984.9 583.1M984.9 583.1L984.9 575.8L987.4 573.3L987.4 568.4M987.4 568.4L989.8 570.9L989.8 573.3L992.3 575.8M992.3 575.8L992.3 602.7L994.7 605.2L994.7 629.7M994.7 629.7L994.7 624.8L997.2 622.3L997.2 610.1L999.6 607.6L999.6 602.7M999.6 602.7L999.6 590.5L1002.1 588.0L1002.1 578.2M1002.1 578.2L1002.1 583.1L1004.5 585.6L1004.5 592.9L1007.0 595.4L1007.0 597.8M1007.0 597.8L1007.0 590.5L1009.4 588.0L1009.4 570.9L1011.9 568.4L1011.9 561.1M1011.9 561.1L1011.9 566.0L1014.3 568.4L1014.3 573.3M1014.3 573.3L1014.3 575.8L1016.8 578.2L1016.8 585.6L1019.2 588.0L1019.2 590.5M1019.2 590.5L1019.2 592.9L1021.7 595.4L1021.7 597.8M1021.7 597.8L1021.7 595.4L1024.1 592.9L1024.1 590.5L1026.6 588.0M1026.6 588.0L1026.6 597.8L1029.0 600.2L1029.0 607.6M1029.0 607.6L1029.0 600.2L1031.5 597.8L1031.5 585.6L1033.9 583.1L1033.9 575.8M1033.9 575.8L1033.9 573.3L1036.4 570.9L1036.4 568.4L1038.8 566.0M1038.8 566.0L1038.8 585.6L1041.2 588.0L1041.2 607.6M1041.2 607.6L1041.2 605.2L1043.7 602.7L1043.7 600.2L1046.2 597.8L1046.2 595.4M1046.2 595.4L1046.2 590.5L1048.6 588.0L1048.6 583.1M1048.6 583.1L1048.6 585.6L1051.1 588.0L1051.1 595.4L1053.5 597.8L1053.5 600.2M1053.5 600.2L1053.5 592.9L1056.0 590.5L1056.0 585.6M1056.0 585.6L1056.0 583.1L1058.4 580.7L1058.4 575.8L1060.9 573.3L1060.9 570.9M1060.9 570.9L1060.9 575.8L1063.3 578.2L1063.3 585.6L1065.8 588.0L1065.8 592.9M1065.8 592.9L1068.2 590.5M1068.2 590.5L1068.2 588.0L1070.7 585.6L1070.7 583.1L1073.1 580.7M1073.1 580.7L1073.1 585.6L1075.6 588.0L1075.6 592.9M1075.6 592.9L1080.5 588.0M1080.5 588.0L1080.5 583.1L1082.9 580.7L1082.9 575.8M1082.9 575.8L1082.9 578.2L1085.4 580.7L1085.4 583.1L1087.8 585.6L1087.8 588.0M1087.8 588.0L1090.2 588.0L1092.7 590.5M1092.7 590.5L1092.7 595.4L1095.2 597.8L1095.2 600.2M1095.2 600.2L1097.6 597.8L1097.6 595.4L1100.1 592.9M1100.1 592.9L1102.5 590.5M1102.5 590.5L1102.5 588.0L1105.0 585.6L1105.0 578.2L1107.4 575.8L1107.4 573.3M1107.4 573.3L1107.4 583.1L1109.9 585.6L1109.9 595.4M1109.9 595.4L1109.9 592.9L1112.3 590.5L1112.3 585.6L1114.8 583.1L1114.8 580.7M1114.8 580.7L1117.2 583.1L1117.2 585.6L1119.7 588.0M1119.7 588.0L1119.7 595.4L1122.1 597.8L1122.1 602.7M1122.1 602.7L1124.6 602.7L1127.0 605.2M1127.0 605.2L1127.0 592.9L1129.5 590.5L1129.5 578.2M1129.5 578.2L1129.5 580.7L1131.9 583.1L1131.9 585.6L1134.4 588.0M1134.4 588.0L1136.8 588.0M1136.8 588.0L1136.8 585.6L1139.2 583.1L1139.2 580.7L1141.7 578.2L1141.7 575.8M1141.7 575.8L1141.7 580.7L1144.2 583.1L1144.2 592.9L1146.6 595.4L1146.6 600.2M1146.6 600.2L1146.6 597.8L1149.1 595.4L1149.1 592.9M1149.1 592.9L1149.1 590.5L1151.5 588.0L1151.5 585.6L1154.0 583.1M1154.0 583.1L1154.0 588.0L1156.4 590.5L1156.4 595.4M1156.4 595.4L1156.4 592.9L1158.9 590.5L1158.9 588.0L1161.3 585.6M1161.3 585.6L1161.3 578.2L1163.8 575.8L1163.8 570.9M1163.8 570.9L1163.8 573.3L1166.2 575.8L1166.2 580.7L1168.7 583.1L1168.7 585.6M1168.7 585.6L1168.7 588.0L1171.1 590.5L1171.1 592.9L1173.6 595.4L1173.6 597.8M1173.6 597.8L1176.0 600.2M1176.0 600.2L1176.0 597.8L1178.5 595.4L1178.5 590.5L1180.9 588.0L1180.9 585.6M1180.9 585.6L1180.9 580.7L1183.4 578.2L1183.4 573.3M1183.4 573.3L1185.8 570.9L1185.8 568.4L1188.2 566.0M1188.2 566.0L1188.2 573.3L1190.7 575.8L1190.7 588.0L1193.2 590.5L1193.2 595.4M1193.2 595.4L1193.2 600.2L1195.6 602.7L1195.6 605.2M1195.6 605.2L1195.6 602.7L1198.1 600.2L1198.1 597.8L1200.5 595.4L1200.5 592.9M1200.5 592.9L1200.5 590.5L1203.0 588.0M1203.0 588.0L1207.9 592.9M1207.9 592.9L1207.9 573.3L1210.3 570.9L1210.3 553.7M1210.3 553.7L1210.3 556.2L1212.8 558.6L1212.8 566.0L1215.2 568.4L1215.2 570.9M1215.2 570.9L1215.2 585.6L1217.7 588.0L1217.7 615.0L1220.1 617.4L1220.1 629.7M1220.1 629.7L1220.1 602.7L1222.6 600.2L1222.6 575.8M1222.6 575.8L1222.6 578.2L1225.0 580.7L1225.0 583.1L1227.5 585.6M1227.5 585.6L1227.5 605.2L1229.9 607.6L1229.9 624.8M1229.9 624.8L1229.9 607.6L1232.4 605.2L1232.4 573.3L1234.8 570.9L1234.8 556.2M1234.8 556.2L1234.8 580.7L1237.2 583.1L1237.2 607.6M1237.2 607.6L1237.2 605.2L1239.7 602.7L1239.7 595.4L1242.2 592.9L1242.2 590.5M1242.2 590.5L1244.6 590.5L1247.1 592.9M1247.1 592.9L1247.1 602.7L1249.5 605.2L1249.5 615.0M1249.5 615.0L1254.4 615.0M1254.4 615.0L1254.4 595.4L1256.9 592.9L1256.9 573.3M1256.9 573.3L1259.3 570.9L1259.3 568.4L1261.8 566.0M1261.8 566.0L1261.8 580.7L1264.2 583.1L1264.2 595.4M1264.2 595.4L1264.2 592.9L1266.7 590.5L1266.7 583.1L1269.1 580.7L1269.1 578.2M1269.1 578.2L1269.1 583.1L1271.6 585.6L1271.6 597.8L1274.0 600.2L1274.0 605.2M1274.0 605.2L1274.0 607.6L1276.5 610.1L1276.5 612.5M1276.5 612.5L1276.5 602.7L1278.9 600.2L1278.9 583.1L1281.4 580.7L1281.4 573.3M1281.4 573.3L1283.8 570.9M1283.8 570.9L1283.8 575.8L1286.2 578.2L1286.2 585.6L1288.7 588.0L1288.7 592.9M1288.7 592.9L1288.7 580.7L1291.2 578.2L1291.2 568.4M1291.2 568.4L1291.2 575.8L1293.6 578.2L1293.6 590.5L1296.1 592.9L1296.1 597.8M1296.1 597.8L1296.1 600.2L1298.5 602.7L1298.5 607.6L1301.0 610.1L1301.0 612.5M1301.0 612.5L1301.0 595.4L1303.4 592.9L1303.4 575.8M1303.4 575.8L1303.4 573.3L1305.9 570.9L1305.9 568.4L1308.3 566.0L1308.3 563.5M1308.3 563.5L1308.3 575.8L1310.8 578.2L1310.8 590.5M1310.8 590.5L1310.8 583.1L1313.2 580.7L1313.2 568.4L1315.7 566.0L1315.7 561.1M1315.7 561.1L1315.7 573.3L1318.1 575.8L1318.1 588.0M1318.1 588.0L1318.1 592.9L1320.6 595.4L1320.6 605.2L1323.0 607.6L1323.0 612.5" fill="none" stroke="#2fae2f" stroke-width="2.8" stroke-dasharray="2.8 5.0" stroke-linecap="butt"/>
<path d="M166.6 588.0L171.5 588.0M171.5 588.0L174.0 588.0M174.0 588.0L178.9 588.0M178.9 588.0L183.8 588.0M183.8 588.0L186.2 588.0M186.2 588.0L191.1 588.0M191.1 588.0L193.6 588.0M193.6 588.0L198.5 588.0M198.5 588.0L200.9 588.0M200.9 588.0L205.8 588.0M205.8 588.0L210.7 588.0M210.7 588.0L213.2 588.0M213.2 588.0L213.2 585.6L215.6 583.1L215.6 580.7L218.1 578.2M218.1 578.2L218.1 573.3L220.5 570.9L220.5 566.0M220.5 566.0L220.5 563.5L223.0 561.1L223.0 558.6L225.4 556.2M225.4 556.2L225.4 553.7L227.9 551.2L227.9 548.8M227.9 548.8L227.9 543.9L230.3 541.5L230.3 534.1L232.8 531.7L232.8 529.2M232.8 529.2L232.8 524.3L235.2 521.9L235.2 509.6L237.7 507.2L237.7 502.3M237.7 502.3L237.7 517.0L240.1 519.4L240.1 534.1M240.1 534.1L240.1 546.4L242.6 548.8L242.6 573.3L245.0 575.8L245.0 588.0M245.0 588.0L245.0 605.2L247.5 607.6L247.5 622.3M247.5 622.3L247.5 624.8L249.9 627.2L249.9 629.7L252.4 632.1M252.4 632.1L252.4 615.0L254.8 612.5L254.8 595.4M254.8 595.4L254.8 585.6L257.2 583.1L257.2 566.0L259.7 563.5L259.7 556.2M259.7 556.2L259.7 551.2L262.2 548.8L262.2 536.6L264.6 534.1L264.6 529.2M264.6 529.2L264.6 536.6L267.1 539.0L267.1 543.9M267.1 543.9L267.1 556.2L269.5 558.6L269.5 585.6L272.0 588.0L272.0 600.2M272.0 600.2L272.0 610.1L274.4 612.5L274.4 619.9M274.4 619.9L279.3 619.9M279.3 619.9L279.3 615.0L281.8 612.5L281.8 607.6M281.8 607.6L281.8 592.9L284.2 590.5L284.2 563.5L286.7 561.1L286.7 546.4M286.7 546.4L286.7 541.5L289.1 539.0L289.1 531.7L291.6 529.2L291.6 526.8M291.6 526.8L291.6 546.4L294.0 548.8L294.0 568.4M294.0 568.4L294.0 573.3L296.5 575.8L296.5 583.1L298.9 585.6L298.9 590.5M298.9 590.5L298.9 597.8L301.4 600.2L301.4 605.2M301.4 605.2L301.4 607.6L303.8 610.1L303.8 612.5L306.2 615.0M306.2 615.0L306.2 590.5L308.7 588.0L308.7 563.5M308.7 563.5L308.7 556.2L311.2 553.7L311.2 536.6L313.6 534.1L313.6 526.8M313.6 526.8L313.6 531.7L316.1 534.1L316.1 541.5L318.5 543.9L318.5 546.4M318.5 546.4L318.5 553.7L321.0 556.2L321.0 563.5M321.0 563.5L321.0 568.4L323.4 570.9L323.4 580.7L325.9 583.1L325.9 588.0M325.9 588.0L325.9 602.7L328.3 605.2L328.3 617.4M328.3 617.4L328.3 607.6L330.8 605.2L330.8 588.0L333.2 585.6L333.2 578.2M333.2 578.2L333.2 553.7L335.7 551.2L335.7 526.8M335.7 526.8L338.1 526.8L340.6 529.2M340.6 529.2L343.0 531.7L343.0 534.1L345.5 536.6M345.5 536.6L345.5 548.8L347.9 551.2L347.9 563.5M347.9 563.5L347.9 573.3L350.4 575.8L350.4 597.8L352.8 600.2L352.8 610.1M352.8 610.1L352.8 605.2L355.2 602.7L355.2 597.8M355.2 597.8L355.2 588.0L357.7 585.6L357.7 568.4L360.2 566.0L360.2 556.2M360.2 556.2L362.6 553.7M362.6 553.7L362.6 551.2L365.1 548.8L365.1 541.5L367.5 539.0L367.5 536.6M367.5 536.6L372.4 531.7M372.4 531.7L372.4 553.7L374.9 556.2L374.9 575.8M374.9 575.8L374.9 580.7L377.3 583.1L377.3 590.5L379.8 592.9L379.8 597.8M379.8 597.8L379.8 600.2L382.2 602.7M382.2 602.7L384.7 602.7L387.1 605.2M387.1 605.2L387.1 588.0L389.6 585.6L389.6 570.9M389.6 570.9L389.6 563.5L392.0 561.1L392.0 546.4L394.5 543.9L394.5 536.6M394.5 536.6L394.5 541.5L396.9 543.9L396.9 553.7L399.4 556.2L399.4 561.1M399.4 561.1L399.4 575.8L401.8 578.2L401.8 590.5M401.8 590.5L404.3 592.9L404.3 595.4L406.7 597.8M406.7 597.8L406.7 600.2L409.2 602.7M409.2 602.7L409.2 595.4L411.6 592.9L411.6 580.7L414.1 578.2L414.1 570.9M414.1 570.9L414.1 548.8L416.5 546.4L416.5 526.8M416.5 526.8L416.5 531.7L419.0 534.1L419.0 541.5L421.4 543.9L421.4 546.4M421.4 546.4L421.4 553.7L423.9 556.2L423.9 570.9L426.3 573.3L426.3 580.7M426.3 580.7L426.3 588.0L428.8 590.5L428.8 595.4M428.8 595.4L428.8 600.2L431.2 602.7L431.2 610.1L433.7 612.5L433.7 615.0M433.7 615.0L433.7 602.7L436.1 600.2L436.1 590.5M436.1 590.5L436.1 575.8L438.6 573.3L438.6 543.9L441.0 541.5L441.0 526.8M441.0 526.8L443.5 529.2M443.5 529.2L443.5 536.6L445.9 539.0L445.9 551.2L448.4 553.7L448.4 558.6M448.4 558.6L448.4 563.5L450.8 566.0L450.8 573.3L453.3 575.8L453.3 578.2M453.3 578.2L453.3 597.8L455.7 600.2L455.7 619.9M455.7 619.9L458.2 619.9L460.6 617.4M460.6 617.4L460.6 588.0L463.1 585.6L463.1 558.6M463.1 558.6L463.1 556.2L465.5 553.7L465.5 546.4L468.0 543.9L468.0 541.5M468.0 541.5L468.0 546.4L470.4 548.8L470.4 551.2M470.4 551.2L470.4 553.7L472.9 556.2L472.9 558.6L475.3 561.1L475.3 563.5M475.3 563.5L475.3 578.2L477.8 580.7L477.8 607.6L480.2 610.1L480.2 624.8M480.2 624.8L480.2 639.5L482.7 641.9L482.7 654.2M482.7 654.2L482.7 639.5L485.1 637.0L485.1 610.1L487.6 607.6L487.6 592.9M487.6 592.9L487.6 575.8L490.0 573.3L490.0 556.2M490.0 556.2L490.0 553.7L492.5 551.2L492.5 548.8L494.9 546.4M494.9 546.4L494.9 539.0L497.4 536.6L497.4 529.2M497.4 529.2L497.4 543.9L499.8 546.4L499.8 573.3L502.3 575.8L502.3 588.0M502.3 588.0L502.3 602.7L504.7 605.2L504.7 637.0L507.2 639.5L507.2 654.2M507.2 654.2L507.2 639.5L509.6 637.0L509.6 624.8M509.6 624.8L509.6 617.4L512.1 615.0L512.1 600.2L514.5 597.8L514.5 590.5M514.5 590.5L514.5 573.3L517.0 570.9L517.0 553.7M517.0 553.7L517.0 536.6L519.4 534.1L519.4 502.3L521.9 499.8L521.9 485.1M521.9 485.1L521.9 490.0L524.3 492.5L524.3 504.7L526.8 507.2L526.8 512.1M526.8 512.1L526.8 558.6L529.2 561.1L529.2 605.2M529.2 605.2L529.2 607.6L531.7 610.1L531.7 617.4L534.1 619.9L534.1 622.3M534.1 622.3L534.1 632.1L536.6 634.6L536.6 641.9M536.6 641.9L536.6 637.0L539.0 634.6L539.0 622.3L541.5 619.9L541.5 615.0M541.5 615.0L541.5 543.9L543.9 541.5L543.9 472.9M543.9 472.9L543.9 470.4L546.4 468.0L546.4 460.6L548.8 458.2L548.8 455.7M548.8 455.7L548.8 487.6L551.2 490.0L551.2 551.2L553.7 553.7L553.7 585.6M553.7 585.6L553.7 615.0L556.2 617.4L556.2 646.8M556.2 646.8L556.2 656.6L558.6 659.1L558.6 676.2L561.1 678.7L561.1 688.5M561.1 688.5L561.1 683.6L563.5 681.1L563.5 678.7M563.5 678.7L563.5 644.4L566.0 641.9L566.0 573.3L568.4 570.9L568.4 536.6M568.4 536.6L568.4 514.5L570.9 512.1L570.9 490.0M570.9 490.0L570.9 507.2L573.3 509.6L573.3 541.5L575.8 543.9L575.8 558.6M575.8 558.6L575.8 566.0L578.2 568.4L578.2 580.7L580.7 583.1L580.7 588.0M580.7 588.0L580.7 617.4L583.1 619.9L583.1 646.8M583.1 646.8L583.1 664.0L585.6 666.4L585.6 703.2L588.0 705.6L588.0 722.8M588.0 722.8L588.0 683.6L590.5 681.1L590.5 641.9M590.5 641.9L590.5 619.9L592.9 617.4L592.9 570.9L595.4 568.4L595.4 546.4M595.4 546.4L595.4 536.6L597.8 534.1L597.8 524.3M597.8 524.3L597.8 509.6L600.2 507.2L600.2 477.8L602.7 475.3L602.7 460.6M602.7 460.6L602.7 465.5L605.2 468.0L605.2 475.3L607.6 477.8L607.6 482.7M607.6 482.7L607.6 561.1L610.1 563.5L610.1 639.5M610.1 639.5L610.1 651.7L612.5 654.2L612.5 678.7L615.0 681.1L615.0 693.4M615.0 693.4L615.0 673.8L617.4 671.3L617.4 654.2M617.4 654.2L617.4 641.9L619.9 639.5L619.9 617.4L622.3 615.0L622.3 602.7M622.3 602.7L622.3 534.1L624.8 531.7L624.8 463.1M624.8 463.1L624.8 455.7L627.2 453.3L627.2 441.0L629.7 438.6L629.7 433.7M629.7 433.7L629.7 472.9L632.1 475.3L632.1 556.2L634.6 558.6L634.6 597.8M634.6 597.8L634.6 632.1L637.0 634.6L637.0 666.4M637.0 666.4L637.0 659.1L639.5 656.6L639.5 644.4L641.9 641.9L641.9 637.0M641.9 637.0L641.9 619.9L644.4 617.4L644.4 602.7M644.4 602.7L644.4 575.8L646.8 573.3L646.8 517.0L649.2 514.5L649.2 487.6M649.2 487.6L649.2 463.1L651.7 460.6L651.7 438.6M651.7 438.6L651.7 472.9L654.2 475.3L654.2 541.5L656.6 543.9L656.6 575.8M656.6 575.8L656.6 597.8L659.1 600.2L659.1 641.9L661.5 644.4L661.5 664.0M661.5 664.0L661.5 666.4L664.0 668.9L664.0 671.3M664.0 671.3L666.4 673.8L666.4 676.2L668.9 678.7M668.9 678.7L668.9 627.2L671.3 624.8L671.3 575.8M671.3 575.8L671.3 551.2L673.8 548.8L673.8 497.4L676.2 494.9L676.2 470.4M676.2 470.4L676.2 490.0L678.7 492.5L678.7 509.6M678.7 509.6L678.7 519.4L681.1 521.9L681.1 539.0L683.6 541.5L683.6 548.8M683.6 548.8L683.6 556.2L686.0 558.6L686.0 575.8L688.5 578.2L688.5 585.6M688.5 585.6L688.5 632.1L690.9 634.6L690.9 681.1M690.9 681.1L693.4 681.1L695.8 678.7M695.8 678.7L695.8 629.7L698.2 627.2L698.2 580.7M698.2 580.7L698.2 573.3L700.7 570.9L700.7 558.6L703.2 556.2L703.2 548.8M703.2 548.8L703.2 524.3L705.6 521.9L705.6 499.8M705.6 499.8L705.6 494.9L708.1 492.5L708.1 485.1L710.5 482.7L710.5 477.8M710.5 477.8L710.5 507.2L713.0 509.6L713.0 568.4L715.4 570.9L715.4 600.2M715.4 600.2L715.4 639.5L717.9 641.9L717.9 681.1M717.9 681.1L717.9 668.9L720.3 666.4L720.3 644.4L722.8 641.9L722.8 629.7M722.8 629.7L722.8 607.6L725.2 605.2L725.2 585.6M725.2 585.6L725.2 566.0L727.7 563.5L727.7 526.8L730.1 524.3L730.1 507.2M730.1 507.2L730.1 477.8L732.6 475.3L732.6 448.4M732.6 448.4L732.6 477.8L735.0 480.2L735.0 541.5L737.5 543.9L737.5 573.3M737.5 573.3L737.5 600.2L739.9 602.7L739.9 656.6L742.4 659.1L742.4 686.0M742.4 686.0L742.4 666.4L744.8 664.0L744.8 646.8M744.8 646.8L744.8 639.5L747.2 637.0L747.2 619.9L749.7 617.4L749.7 610.1M749.7 610.1L749.7 566.0L752.2 563.5L752.2 521.9M752.2 521.9L752.2 497.4L754.6 494.9L754.6 443.5L757.1 441.0L757.1 416.5M757.1 416.5L757.1 463.1L759.5 465.5L759.5 512.1M759.5 512.1L759.5 546.4L762.0 548.8L762.0 619.9L764.4 622.3L764.4 656.6M764.4 656.6L764.4 661.5L766.9 664.0L766.9 671.3L769.3 673.8L769.3 678.7M769.3 678.7L769.3 686.0L771.8 688.5L771.8 695.8M771.8 695.8L771.8 673.8L774.2 671.3L774.2 627.2L776.7 624.8L776.7 602.7M776.7 602.7L776.7 492.5L779.1 490.0L779.1 379.8M779.1 379.8L779.1 389.6L781.6 392.0L781.6 409.2L784.0 411.6L784.0 419.0M784.0 419.0L784.0 507.2L786.5 509.6L786.5 597.8M786.5 597.8L786.5 615.0L788.9 617.4L788.9 649.2L791.4 651.7L791.4 668.9M791.4 668.9L791.4 690.9L793.8 693.4L793.8 737.5L796.3 739.9L796.3 762.0M796.3 762.0L796.3 742.4L798.7 739.9L798.7 722.8M798.7 722.8L798.7 656.6L801.2 654.2L801.2 524.3L803.6 521.9L803.6 455.7M803.6 455.7L803.6 428.8L806.1 426.3L806.1 399.4M806.1 399.4L806.1 426.3L808.5 428.8L808.5 480.2L811.0 482.7L811.0 507.2M811.0 507.2L811.0 536.6L813.4 539.0L813.4 568.4M813.4 568.4L813.4 605.2L815.9 607.6L815.9 683.6L818.3 686.0L818.3 722.8M818.3 722.8L818.3 742.4L820.8 744.8L820.8 781.6L823.2 784.0L823.2 801.2M823.2 801.2L823.2 693.4L825.7 690.9L825.7 585.6M825.7 585.6L825.7 551.2L828.1 548.8L828.1 480.2L830.6 477.8L830.6 443.5M830.6 443.5L833.0 441.0M833.0 441.0L833.0 436.1L835.5 433.7L835.5 421.4L837.9 419.0L837.9 414.1M837.9 414.1L837.9 487.6L840.4 490.0L840.4 561.1M840.4 561.1L840.4 610.1L842.8 612.5L842.8 708.1L845.3 710.5L845.3 759.5M845.3 759.5L845.3 737.5L847.7 735.0L847.7 693.4L850.2 690.9L850.2 671.3M850.2 671.3L850.2 602.7L852.6 600.2L852.6 534.1M852.6 534.1L852.6 514.5L855.1 512.1L855.1 475.3L857.5 472.9L857.5 453.3M857.5 453.3L857.5 389.6L860.0 387.1L860.0 325.9M860.0 325.9L860.0 355.2L862.4 357.7L862.4 414.1L864.9 416.5L864.9 445.9M864.9 445.9L864.9 592.9L867.3 595.4L867.3 742.4M867.3 742.4L869.8 742.4L872.2 744.8M872.2 744.8L872.2 720.3L874.7 717.9L874.7 666.4L877.1 664.0L877.1 639.5M877.1 639.5L877.1 590.5L879.6 588.0L879.6 539.0M879.6 539.0L879.6 480.2L882.0 477.8L882.0 362.6L884.5 360.2L884.5 301.4M884.5 301.4L884.5 308.7L886.9 311.2L886.9 318.5M886.9 318.5L886.9 399.4L889.4 401.8L889.4 566.0L891.8 568.4L891.8 649.2M891.8 649.2L891.8 703.2L894.3 705.6L894.3 757.1M894.3 757.1L894.3 754.6L896.7 752.2L896.7 747.2L899.2 744.8L899.2 742.4M899.2 742.4L899.2 737.5L901.6 735.0L901.6 725.2L904.1 722.8L904.1 717.9M904.1 717.9L904.1 590.5L906.5 588.0L906.5 460.6M906.5 460.6L906.5 428.8L909.0 426.3L909.0 360.2L911.4 357.7L911.4 325.9M911.4 325.9L911.4 411.6L913.9 414.1L913.9 499.8M913.9 499.8L913.9 529.2L916.3 531.7L916.3 588.0L918.8 590.5L918.8 617.4M918.8 617.4L918.8 671.3L921.2 673.8L921.2 725.2M921.2 725.2L921.2 754.6L923.7 757.1L923.7 813.4L926.1 815.9L926.1 845.3M926.1 845.3L926.1 796.3L928.6 793.8L928.6 693.4L931.0 690.9L931.0 641.9M931.0 641.9L931.0 519.4L933.5 517.0L933.5 396.9M933.5 396.9L935.9 399.4L935.9 401.8L938.4 404.3M938.4 404.3L938.4 409.2L940.8 411.6L940.8 414.1M940.8 414.1L940.8 443.5L943.3 445.9L943.3 502.3L945.7 504.7L945.7 531.7M945.7 531.7L945.7 681.1L948.2 683.6L948.2 830.6M948.2 830.6L948.2 825.7L950.6 823.2L950.6 813.4L953.1 811.0L953.1 806.1M953.1 806.1L953.1 749.7L955.5 747.2L955.5 637.0L958.0 634.6L958.0 580.7M958.0 580.7L958.0 531.7L960.4 529.2L960.4 480.2M960.4 480.2L960.4 445.9L962.9 443.5L962.9 374.9L965.3 372.4L965.3 338.1M965.3 338.1L967.8 338.1M967.8 338.1L967.8 419.0L970.2 421.4L970.2 585.6L972.7 588.0L972.7 668.9M972.7 668.9L972.7 732.6L975.1 735.0L975.1 796.3M975.1 796.3L975.1 764.4L977.6 762.0L977.6 698.2L980.0 695.8L980.0 664.0M980.0 664.0L980.0 641.9L982.5 639.5L982.5 597.8L984.9 595.4L984.9 573.3M984.9 573.3L984.9 472.9L987.4 470.4L987.4 370.0M987.4 370.0L987.4 343.0L989.8 340.6L989.8 286.7L992.3 284.2L992.3 257.2M992.3 257.2L992.3 406.7L994.7 409.2L994.7 556.2M994.7 556.2L994.7 607.6L997.2 610.1L997.2 715.4L999.6 717.9L999.6 769.3M999.6 769.3L999.6 754.6L1002.1 752.2L1002.1 737.5M1002.1 737.5L1002.1 732.6L1004.5 730.1L1004.5 722.8L1007.0 720.3L1007.0 717.9M1007.0 717.9L1007.0 668.9L1009.4 666.4L1009.4 570.9L1011.9 568.4L1011.9 519.4M1011.9 519.4L1011.9 411.6L1014.3 409.2L1014.3 303.8M1014.3 303.8L1014.3 340.6L1016.8 343.0L1016.8 419.0L1019.2 421.4L1019.2 458.2M1019.2 458.2L1019.2 553.7L1021.7 556.2L1021.7 651.7M1021.7 651.7L1021.7 661.5L1024.1 664.0L1024.1 686.0L1026.6 688.5L1026.6 698.2M1026.6 698.2L1026.6 730.1L1029.0 732.6L1029.0 762.0M1029.0 762.0L1029.0 730.1L1031.5 727.7L1031.5 664.0L1033.9 661.5L1033.9 629.7M1033.9 629.7L1033.9 566.0L1036.4 563.5L1036.4 436.1L1038.8 433.7L1038.8 370.0M1038.8 370.0L1038.8 387.1L1041.2 389.6L1041.2 406.7M1041.2 406.7L1041.2 441.0L1043.7 443.5L1043.7 512.1L1046.2 514.5L1046.2 548.8M1046.2 548.8L1046.2 585.6L1048.6 588.0L1048.6 624.8M1048.6 624.8L1048.6 659.1L1051.1 661.5L1051.1 732.6L1053.5 735.0L1053.5 769.3M1053.5 769.3L1053.5 749.7L1056.0 747.2L1056.0 730.1M1056.0 730.1L1056.0 656.6L1058.4 654.2L1058.4 509.6L1060.9 507.2L1060.9 433.7M1060.9 433.7L1060.9 416.5L1063.3 414.1L1063.3 379.8L1065.8 377.3L1065.8 360.2M1065.8 360.2L1065.8 401.8L1068.2 404.3L1068.2 443.5M1068.2 443.5L1068.2 460.6L1070.7 463.1L1070.7 494.9L1073.1 497.4L1073.1 514.5M1073.1 514.5L1073.1 629.7L1075.6 632.1L1075.6 744.8M1075.6 744.8L1075.6 762.0L1078.0 764.4L1078.0 796.3L1080.5 798.7L1080.5 815.9M1080.5 815.9L1080.5 664.0L1082.9 661.5L1082.9 509.6M1082.9 509.6L1082.9 468.0L1085.4 465.5L1085.4 384.7L1087.8 382.2L1087.8 343.0M1087.8 343.0L1090.2 340.6L1090.2 338.1L1092.7 335.7M1092.7 335.7L1092.7 333.2L1095.2 330.8L1095.2 328.3M1095.2 328.3L1095.2 392.0L1097.6 394.5L1097.6 519.4L1100.1 521.9L1100.1 585.6M1100.1 585.6L1100.1 688.5L1102.5 690.9L1102.5 793.8M1102.5 793.8L1102.5 749.7L1105.0 747.2L1105.0 661.5L1107.4 659.1L1107.4 617.4M1107.4 617.4L1107.4 534.1L1109.9 531.7L1109.9 448.4M1109.9 448.4L1109.9 428.8L1112.3 426.3L1112.3 384.7L1114.8 382.2L1114.8 362.6M1114.8 362.6L1114.8 338.1L1117.2 335.7L1117.2 289.1L1119.7 286.7L1119.7 262.2M1119.7 262.2L1119.7 370.0L1122.1 372.4L1122.1 480.2M1122.1 480.2L1122.1 553.7L1124.6 556.2L1124.6 703.2L1127.0 705.6L1127.0 779.1M1127.0 779.1L1127.0 744.8L1129.5 742.4L1129.5 710.5M1129.5 710.5L1129.5 678.7L1131.9 676.2L1131.9 615.0L1134.4 612.5L1134.4 583.1M1134.4 583.1L1134.4 526.8L1136.8 524.3L1136.8 470.4M1136.8 470.4L1136.8 421.4L1139.2 419.0L1139.2 318.5L1141.7 316.1L1141.7 267.1M1141.7 267.1L1141.7 296.5L1144.2 298.9L1144.2 355.2L1146.6 357.7L1146.6 387.1M1146.6 387.1L1146.6 566.0L1149.1 568.4L1149.1 744.8M1149.1 744.8L1149.1 757.1L1151.5 759.5L1151.5 781.6L1154.0 784.0L1154.0 796.3M1154.0 796.3L1154.0 771.8L1156.4 769.3L1156.4 747.2M1156.4 747.2L1156.4 722.8L1158.9 720.3L1158.9 671.3L1161.3 668.9L1161.3 644.4M1161.3 644.4L1161.3 482.7L1163.8 480.2L1163.8 318.5M1163.8 318.5L1163.8 313.6L1166.2 311.2L1166.2 301.4L1168.7 298.9L1168.7 294.0M1168.7 294.0L1168.7 377.3L1171.1 379.8L1171.1 543.9L1173.6 546.4L1173.6 629.7M1173.6 629.7L1173.6 700.7L1176.0 703.2L1176.0 771.8M1176.0 771.8L1176.0 784.0L1178.5 786.5L1178.5 813.4L1180.9 815.9L1180.9 828.1M1180.9 828.1L1180.9 825.7L1183.4 823.2M1183.4 823.2L1183.4 744.8L1185.8 742.4L1185.8 583.1L1188.2 580.7L1188.2 502.3M1188.2 502.3L1188.2 463.1L1190.7 460.6L1190.7 379.8L1193.2 377.3L1193.2 338.1M1193.2 338.1L1193.2 426.3L1195.6 428.8L1195.6 517.0M1195.6 517.0L1195.6 546.4L1198.1 548.8L1198.1 607.6L1200.5 610.1L1200.5 639.5M1200.5 639.5L1200.5 698.2L1203.0 700.7L1203.0 757.1M1203.0 757.1L1203.0 781.6L1205.4 784.0L1205.4 830.6L1207.9 833.0L1207.9 855.1M1207.9 855.1L1207.9 730.1L1210.3 727.7L1210.3 602.7M1210.3 602.7L1210.3 543.9L1212.8 541.5L1212.8 421.4L1215.2 419.0L1215.2 360.2M1215.2 360.2L1215.2 374.9L1217.7 377.3L1217.7 404.3L1220.1 406.7L1220.1 421.4M1220.1 421.4L1220.1 458.2L1222.6 460.6L1222.6 494.9M1222.6 494.9L1222.6 529.2L1225.0 531.7L1225.0 602.7L1227.5 605.2L1227.5 639.5M1227.5 639.5L1227.5 747.2L1229.9 749.7L1229.9 857.5M1229.9 857.5L1229.9 811.0L1232.4 808.5L1232.4 717.9L1234.8 715.4L1234.8 668.9M1234.8 668.9L1234.8 494.9L1237.2 492.5L1237.2 318.5M1237.2 318.5L1237.2 308.7L1239.7 306.2L1239.7 286.7L1242.2 284.2L1242.2 274.4M1242.2 274.4L1242.2 272.0L1244.6 269.5L1244.6 267.1L1247.1 264.6M1247.1 264.6L1247.1 343.0L1249.5 345.5L1249.5 423.9M1249.5 423.9L1249.5 526.8L1252.0 529.2L1252.0 735.0L1254.4 737.5L1254.4 840.4M1254.4 840.4L1254.4 828.1L1256.9 825.7L1256.9 813.4M1256.9 813.4L1256.9 730.1L1259.3 727.7L1259.3 563.5L1261.8 561.1L1261.8 480.2M1261.8 480.2L1261.8 416.5L1264.2 414.1L1264.2 350.4M1264.2 350.4L1264.2 316.1L1266.7 313.6L1266.7 247.5L1269.1 245.0L1269.1 213.2M1269.1 213.2L1269.1 223.0L1271.6 225.4L1271.6 242.6L1274.0 245.0L1274.0 252.4M1274.0 252.4L1274.0 472.9L1276.5 475.3L1276.5 695.8M1276.5 695.8L1276.5 732.6L1278.9 735.0L1278.9 806.1L1281.4 808.5L1281.4 842.8M1281.4 842.8L1281.4 737.5L1283.8 735.0L1283.8 629.7M1283.8 629.7L1283.8 600.2L1286.2 597.8L1286.2 536.6L1288.7 534.1L1288.7 504.7M1288.7 504.7L1288.7 392.0L1291.2 389.6L1291.2 279.3M1291.2 279.3L1291.2 254.8L1293.6 252.4L1293.6 203.4L1296.1 200.9L1296.1 176.4M1296.1 176.4L1296.1 276.9L1298.5 279.3L1298.5 477.8L1301.0 480.2L1301.0 578.2M1301.0 578.2L1301.0 713.0L1303.4 715.4L1303.4 850.2M1303.4 850.2L1303.4 830.6L1305.9 828.1L1305.9 791.4L1308.3 788.9L1308.3 771.8M1308.3 771.8L1308.3 725.2L1310.8 722.8L1310.8 678.7M1310.8 678.7L1310.8 619.9L1313.2 617.4L1313.2 502.3L1315.7 499.8L1315.7 443.5M1315.7 443.5L1315.7 345.5L1318.1 343.0L1318.1 247.5M1318.1 247.5L1318.1 294.0L1320.6 296.5L1320.6 392.0L1323.0 394.5L1323.0 441.0" fill="none" stroke="#2b2e96" stroke-width="3.5" stroke-dasharray="9.0 28.0" stroke-linecap="butt"/>
<path d="M164.2 1947.8 L164.2 1950.2 L166.6 1952.7 L166.6 1955.1 L169.1 1957.6 L169.1 1955.1 L171.5 1952.7 L171.5 1950.2 L171.5 1940.4 L174.0 1938.0 L174.0 1928.2 L174.0 1925.7 L176.4 1923.3 L176.4 1920.8 L178.9 1918.4 L178.9 1915.9 L178.9 1871.8 L181.3 1869.4 L181.3 1783.6 L183.8 1781.2 L183.8 1695.4 L186.2 1693.0 L186.2 1648.9 L186.2 1683.2 L188.7 1685.6 L188.7 1719.9 L188.7 1742.0 L191.1 1744.4 L191.1 1786.1 L193.6 1788.5 L193.6 1810.6 L193.6 1830.2 L196.0 1832.6 L196.0 1874.3 L198.5 1876.7 L198.5 1896.3 L198.5 1915.9 L200.9 1918.4 L200.9 1935.5 L200.9 1947.8 L203.4 1950.2 L203.4 1960.0 L203.4 1964.9 L205.8 1967.4 L205.8 1972.3 L205.8 1974.7 L208.3 1977.2 L208.3 1979.6 L210.7 1982.1 L210.7 1984.5 L213.2 1987.0 L218.1 1991.9 L220.5 1991.9 L223.0 1994.3 L230.3 1994.3 L232.8 1996.8 L232.8 1999.2 L235.2 2001.7 L235.2 2004.1 L237.7 2006.6 L237.7 2009.0 L240.1 2011.5 L242.6 2011.5 L245.0 2009.0 L249.9 2009.0 L252.4 2006.6 L254.8 2006.6 L262.2 2006.6 L262.2 2004.1 L264.6 2001.7 L264.6 1996.8 L267.1 1994.3 L267.1 1991.9 L267.1 1984.5 L269.5 1982.1 L269.5 1974.7 L269.5 1972.3 L272.0 1969.8 L272.0 1967.4 L274.4 1964.9 L276.9 1962.5 L276.9 1960.0 L279.3 1957.6 L284.2 1952.7 L286.7 1950.2 L286.7 1952.7 L289.1 1955.1 L289.1 1957.6 L289.1 1960.0 L291.6 1962.5 L291.6 1964.9 L294.0 1967.4 L294.0 1969.8 L294.0 1972.3 L296.5 1974.7 L296.5 1979.6 L298.9 1982.1 L298.9 1984.5 L298.9 1989.4 L301.4 1991.9 L301.4 1994.3 L306.2 1989.4 L311.2 1989.4 L313.6 1989.4 L316.1 1991.9 L316.1 1994.3 L318.5 1996.8 L318.5 1999.2 L321.0 2001.7 L321.0 2004.1 L323.4 2006.6 L323.4 2009.0 L325.9 2009.0 L328.3 2011.5 L330.8 2011.5 L335.7 2011.5 L338.1 2013.9 L340.6 2013.9 L343.0 2013.9 L345.5 2016.4 L347.9 2016.4 L350.4 2016.4 L352.8 2018.8 L360.2 2018.8 L362.6 2018.8 L365.1 2016.4 L367.5 2016.4 L370.0 2013.9 L379.8 2013.9 L389.6 2013.9 L389.6 2016.4 L392.0 2018.8 L399.4 2018.8 L409.2 2018.8 L411.6 2016.4 L419.0 2016.4 L423.9 2016.4 L426.3 2013.9 L431.2 2013.9 L433.7 2011.5 L436.1 2011.5 L438.6 2009.0 L441.0 2011.5 L443.5 2011.5 L448.4 2016.4 L450.8 2016.4 L453.3 2013.9 L455.7 2013.9 L463.1 2013.9 L463.1 2011.5 L465.5 2009.0 L465.5 2006.6 L468.0 2004.1 L470.4 2001.7 L470.4 1999.2 L472.9 1996.8 L472.9 1994.3 L475.3 1991.9 L475.3 1987.0 L477.8 1984.5 L477.8 1979.6 L477.8 1982.1 L480.2 1984.5 L480.2 1987.0 L482.7 1989.4 L482.7 1991.9 L485.1 1994.3 L485.1 1996.8 L487.6 1999.2 L487.6 2001.7 L490.0 2004.1 L490.0 2006.6 L494.9 2011.5 L494.9 1994.3 L497.4 1991.9 L497.4 1977.2 L497.4 1913.5 L499.8 1911.0 L499.8 1847.3 L499.8 1840.0 L502.3 1837.5 L502.3 1825.3 L504.7 1822.8 L504.7 1815.5 L504.7 1817.9 L507.2 1820.4 L507.2 1822.8 L509.6 1825.3 L509.6 1852.2 L512.1 1854.7 L512.1 1879.2 L512.1 1896.3 L514.5 1898.8 L514.5 1913.5 L514.5 1933.1 L517.0 1935.5 L517.0 1952.7 L517.0 1960.0 L519.4 1962.5 L519.4 1969.8 L519.4 1972.3 L521.9 1974.7 L521.9 1982.1 L524.3 1984.5 L524.3 1987.0 L524.3 1996.8 L529.2 2001.7 L531.7 2004.1 L534.1 2004.1 L536.6 2006.6 L541.5 2006.6 L548.8 2006.6 L556.2 2006.6 L558.6 2006.6 L561.1 2004.1 L563.5 2004.1 L566.0 2001.7 L568.4 1999.2 L570.9 1999.2 L573.3 1996.8 L573.3 1982.1 L573.3 1974.7 L575.8 1972.3 L575.8 1967.4 L575.8 1964.9 L578.2 1962.5 L578.2 1964.9 L580.7 1967.4 L580.7 1969.8 L580.7 1974.7 L583.1 1977.2 L583.1 1979.6 L583.1 1982.1 L585.6 1984.5 L585.6 1987.0 L588.0 1987.0 L590.5 1989.4 L592.9 1989.4 L595.4 1989.4 L597.8 1987.0 L600.2 1984.5" fill="none" stroke="#0ab3ba" stroke-width="2.3" stroke-linejoin="miter" stroke-linecap="square"/>
<path d="M607.6 2001.7 L612.5 2006.6 L615.0 2009.0 L617.4 2009.0 L619.9 2011.5 L622.3 2011.5 L624.8 2013.9 L639.5 2013.9 L641.9 2013.9 L644.4 2011.5 L646.8 2011.5 L651.7 2016.4 L659.1 2016.4 L659.1 2013.9 L686.0 2013.9 L698.2 2013.9 L710.5 2013.9 L725.2 2013.9 L727.7 2016.4 L742.4 2016.4 L744.8 2013.9 L744.8 2011.5 L747.2 2009.0 L747.2 2006.6 L749.7 2004.1 L749.7 2001.7 L752.2 1999.2 L754.6 1999.2 L757.1 1996.8 L759.5 1996.8 L764.4 2001.7 L764.4 1999.2 L766.9 1996.8 L766.9 1994.3 L769.3 1991.9 L771.8 1994.3 L771.8 1996.8 L774.2 1999.2 L774.2 2001.7 L776.7 2004.1 L776.7 2006.6 L779.1 2009.0 L781.6 2006.6 L781.6 2004.1 L784.0 2001.7 L784.0 1999.2 L786.5 1996.8 L788.9 1994.3 L791.4 1994.3 L793.8 1991.9 L796.3 1989.4 L798.7 1989.4 L803.6 1984.5 L803.6 1989.4 L806.1 1991.9 L806.1 1994.3 L811.0 1999.2 L813.4 2001.7 L815.9 2001.7 L818.3 2004.1 L820.8 2001.7 L823.2 2001.7 L825.7 1999.2 L835.5 1999.2 L837.9 1999.2 L840.4 1996.8 L842.8 1999.2 L842.8 2001.7 L845.3 2004.1 L852.6 2011.5" fill="none" stroke="#0ab3ba" stroke-width="2.3" stroke-linejoin="miter" stroke-linecap="square"/>
<path d="M855.1 1982.1 L857.5 1982.1 L860.0 1984.5 L862.4 1984.5 L864.9 1987.0 L867.3 1987.0 L872.2 1991.9 L874.7 1994.3 L877.1 1994.3 L879.6 1996.8 L882.0 1999.2 L884.5 1999.2 L886.9 2001.7 L891.8 1996.8 L904.1 1996.8 L904.1 1999.2 L906.5 2001.7 L906.5 2004.1 L909.0 2006.6 L909.0 2009.0 L909.0 1994.3 L911.4 1991.9 L911.4 1979.6 L911.4 1955.1 L913.9 1952.7 L913.9 1930.6 L913.9 1911.0 L916.3 1908.6 L916.3 1891.4 L916.3 1866.9 L918.8 1864.5 L918.8 1842.4 L918.8 1817.9 L921.2 1815.5 L921.2 1768.9 L923.7 1766.5 L923.7 1719.9 L926.1 1717.5 L926.1 1695.4 L926.1 1724.8 L928.6 1727.3 L928.6 1783.6 L931.0 1786.1 L931.0 1813.0 L931.0 1832.6 L933.5 1835.1 L933.5 1854.7 L933.5 1876.7 L935.9 1879.2 L935.9 1901.2 L935.9 1930.6 L935.9 1950.2 L938.4 1952.7 L938.4 1969.8 L938.4 1979.6 L940.8 1982.1 L940.8 1991.9 L943.3 1991.9 L945.7 1994.3 L945.7 1996.8 L948.2 1999.2 L948.2 2001.7 L950.6 2004.1 L950.6 2006.6 L953.1 2009.0 L953.1 2011.5 L955.5 2013.9 L955.5 2011.5 L958.0 2009.0 L958.0 2004.1 L960.4 2001.7 L960.4 1999.2 L962.9 1999.2 L965.3 1996.8 L967.8 1996.8 L970.2 1996.8 L972.7 1999.2 L975.1 1999.2 L977.6 1996.8 L980.0 1999.2 L980.0 2001.7 L982.5 2004.1 L982.5 2006.6 L984.9 2009.0 L989.8 2004.1 L994.7 1999.2 L999.6 2004.1 L999.6 2006.6 L1007.0 1999.2 L1016.8 1999.2 L1019.2 2001.7 L1019.2 2004.1 L1024.1 2009.0 L1026.6 2011.5 L1029.0 2011.5 L1031.5 2013.9 L1041.2 2004.1 L1043.7 2006.6 L1043.7 2009.0 L1048.6 2013.9 L1053.5 2013.9 L1056.0 2016.4 L1058.4 2016.4 L1060.9 2016.4 L1063.3 2013.9 L1065.8 2013.9 L1073.1 2013.9 L1078.0 2009.0 L1080.5 2011.5 L1082.9 2011.5 L1085.4 2013.9 L1095.2 2013.9 L1097.6 2013.9 L1100.1 2011.5 L1109.9 2011.5 L1112.3 2011.5 L1114.8 2013.9 L1117.2 2013.9 L1119.7 2011.5 L1122.1 2011.5 L1124.6 2009.0 L1127.0 2011.5 L1129.5 2011.5 L1131.9 2013.9 L1149.1 2013.9 L1154.0 2013.9 L1156.4 2016.4 L1158.9 2016.4 L1185.8 2016.4 L1188.2 2016.4 L1190.7 2013.9 L1193.2 2013.9 L1195.6 2011.5 L1198.1 2011.5 L1200.5 2009.0 L1205.4 2009.0 L1207.9 2006.6 L1210.3 2006.6 L1212.8 2004.1 L1212.8 2001.7 L1217.7 1996.8 L1222.6 2001.7 L1227.5 2001.7 L1227.5 1996.8 L1229.9 1994.3 L1229.9 1987.0 L1232.4 1984.5 L1232.4 1979.6 L1232.4 1977.2 L1234.8 1974.7 L1234.8 1967.4 L1237.2 1964.9 L1237.2 1962.5 L1237.2 1955.1 L1239.7 1952.7 L1239.7 1947.8 L1239.7 1950.2 L1242.2 1952.7 L1242.2 1955.1 L1244.6 1957.6 L1244.6 1960.0 L1244.6 1967.4 L1247.1 1969.8 L1247.1 1977.2 L1247.1 1979.6 L1249.5 1982.1 L1249.5 1987.0 L1252.0 1989.4 L1252.0 1991.9 L1252.0 1994.3 L1254.4 1996.8 L1254.4 1999.2 L1256.9 2001.7 L1256.9 2004.1 L1259.3 2006.6 L1264.2 2011.5 L1266.7 2009.0 L1269.1 2009.0 L1271.6 2006.6 L1276.5 2001.7 L1281.4 2006.6 L1291.2 2006.6 L1296.1 2006.6 L1296.1 2004.1 L1298.5 2001.7 L1298.5 1999.2 L1301.0 1996.8 L1301.0 1994.3 L1301.0 1989.4 L1303.4 1987.0 L1303.4 1984.5 L1310.8 1977.2" fill="none" stroke="#0ab3ba" stroke-width="2.3" stroke-linejoin="miter" stroke-linecap="square"/>
<path d="M164.2 2018.8L171.5 2018.8M171.5 2018.8L178.9 2018.8M178.9 2018.8L186.2 2018.8M186.2 2018.8L193.6 2018.8M193.6 2018.8L203.4 2018.8M203.4 2018.8L210.7 2018.8M210.7 2018.8L218.1 2018.8M218.1 2018.8L225.4 2018.8M225.4 2018.8L232.8 2018.8M232.8 2018.8L240.1 2018.8M240.1 2018.8L247.5 2018.8M247.5 2018.8L257.2 2018.8M257.2 2018.8L264.6 2018.8M264.6 2018.8L272.0 2018.8M272.0 2018.8L279.3 2018.8M279.3 2018.8L286.7 2018.8M286.7 2018.8L294.0 2018.8M294.0 2018.8L301.4 2018.8M301.4 2018.8L311.2 2018.8M311.2 2018.8L318.5 2018.8M318.5 2018.8L325.9 2018.8M325.9 2018.8L333.2 2018.8M333.2 2018.8L340.6 2018.8M340.6 2018.8L347.9 2018.8M347.9 2018.8L357.7 2018.8M357.7 2018.8L365.1 2018.8M365.1 2018.8L372.4 2018.8M372.4 2018.8L379.8 2018.8M379.8 2018.8L387.1 2018.8M387.1 2018.8L394.5 2018.8M394.5 2018.8L401.8 2018.8M401.8 2018.8L411.6 2018.8M411.6 2018.8L419.0 2018.8M419.0 2018.8L426.3 2018.8M426.3 2018.8L433.7 2018.8M433.7 2018.8L441.0 2018.8M441.0 2018.8L448.4 2018.8M448.4 2018.8L455.7 2018.8M455.7 2018.8L465.5 2018.8M465.5 2018.8L472.9 2018.8M472.9 2018.8L480.2 2018.8M480.2 2018.8L487.6 2018.8M487.6 2018.8L494.9 2018.8M494.9 2018.8L502.3 2018.8M502.3 2018.8L509.6 2018.8M509.6 2018.8L519.4 2018.8M519.4 2018.8L526.8 2018.8M526.8 2018.8L534.1 2018.8M534.1 2018.8L541.5 2018.8M541.5 2018.8L548.8 2018.8M548.8 2018.8L556.2 2018.8M556.2 2018.8L563.5 2018.8M563.5 2018.8L573.3 2018.8M573.3 2018.8L580.7 2018.8M580.7 2018.8L588.0 2018.8M588.0 2018.8L595.4 2018.8M595.4 2018.8L602.7 2018.8M602.7 2018.8L610.1 2018.8M610.1 2018.8L617.4 2018.8M617.4 2018.8L627.2 2018.8M627.2 2018.8L634.6 2018.8M634.6 2018.8L641.9 2018.8M641.9 2018.8L649.2 2018.8M649.2 2018.8L656.6 2018.8M656.6 2018.8L664.0 2018.8M664.0 2018.8L671.3 2018.8M671.3 2018.8L681.1 2018.8M681.1 2018.8L688.5 2018.8M688.5 2018.8L695.8 2018.8M695.8 2018.8L703.2 2018.8M703.2 2018.8L710.5 2018.8M710.5 2018.8L717.9 2018.8M717.9 2018.8L725.2 2018.8M725.2 2018.8L735.0 2018.8M735.0 2018.8L742.4 2018.8M742.4 2018.8L749.7 2018.8M749.7 2018.8L757.1 2018.8M757.1 2018.8L764.4 2018.8M764.4 2018.8L771.8 2018.8M771.8 2018.8L781.6 2018.8M781.6 2018.8L788.9 2018.8M788.9 2018.8L796.3 2018.8M796.3 2018.8L803.6 2018.8M803.6 2018.8L811.0 2018.8M811.0 2018.8L818.3 2018.8M818.3 2018.8L825.7 2018.8M825.7 2018.8L835.5 2018.8M835.5 2018.8L842.8 2018.8M842.8 2018.8L850.2 2018.8M850.2 2018.8L857.5 2018.8M857.5 2018.8L864.9 2018.8M864.9 2018.8L872.2 2018.8M872.2 2018.8L879.6 2018.8M879.6 2018.8L889.4 2018.8M889.4 2018.8L896.7 2018.8M896.7 2018.8L904.1 2018.8M904.1 2018.8L911.4 2018.8M911.4 2018.8L918.8 2018.8M918.8 2018.8L926.1 2018.8M926.1 2018.8L933.5 2018.8M933.5 2018.8L943.3 2018.8M943.3 2018.8L950.6 2018.8M950.6 2018.8L958.0 2018.8M958.0 2018.8L965.3 2018.8M965.3 2018.8L972.7 2018.8M972.7 2018.8L980.0 2018.8M980.0 2018.8L987.4 2018.8M987.4 2018.8L997.2 2018.8M997.2 2018.8L1004.5 2018.8M1004.5 2018.8L1011.9 2018.8M1011.9 2018.8L1019.2 2018.8M1019.2 2018.8L1026.6 2018.8M1026.6 2018.8L1033.9 2018.8M1033.9 2018.8L1041.2 2018.8M1041.2 2018.8L1051.1 2018.8M1051.1 2018.8L1058.4 2018.8M1058.4 2018.8L1065.8 2018.8M1065.8 2018.8L1073.1 2018.8M1073.1 2018.8L1080.5 2018.8M1080.5 2018.8L1087.8 2018.8M1087.8 2018.8L1095.2 2018.8M1095.2 2018.8L1105.0 2018.8M1105.0 2018.8L1112.3 2018.8M1112.3 2018.8L1119.7 2018.8M1119.7 2018.8L1127.0 2018.8M1127.0 2018.8L1134.4 2018.8M1134.4 2018.8L1141.7 2018.8M1141.7 2018.8L1151.5 2018.8M1151.5 2018.8L1158.9 2018.8M1158.9 2018.8L1166.2 2018.8M1166.2 2018.8L1173.6 2018.8M1173.6 2018.8L1180.9 2018.8M1180.9 2018.8L1188.2 2018.8M1188.2 2018.8L1195.6 2018.8M1195.6 2018.8L1205.4 2018.8M1205.4 2018.8L1212.8 2018.8M1212.8 2018.8L1220.1 2018.8M1220.1 2018.8L1227.5 2018.8M1227.5 2018.8L1234.8 2018.8M1234.8 2018.8L1242.2 2018.8M1242.2 2018.8L1249.5 2018.8M1249.5 2018.8L1259.3 2018.8M1259.3 2018.8L1266.7 2018.8M1266.7 2018.8L1274.0 2018.8M1274.0 2018.8L1281.4 2018.8M1281.4 2018.8L1288.7 2018.8M1288.7 2018.8L1296.1 2018.8M1296.1 2018.8L1303.4 2018.8M1303.4 2018.8L1313.2 2018.8" fill="none" stroke="#2fae2f" stroke-width="2.2" stroke-dasharray="3.2 10" stroke-linecap="butt"/>
<path d="M904.1 2018.8L909.0 2018.8L911.4 2016.4L913.9 2016.4M913.9 2016.4L918.8 2011.5M918.8 2011.5L918.8 2006.6L921.2 2004.1L921.2 1996.8L923.7 1994.3L923.7 1987.0L926.1 1984.5L926.1 1982.1M926.1 1982.1L926.1 1987.0L928.6 1989.4L928.6 1996.8L931.0 1999.2L931.0 2004.1M931.0 2004.1L931.0 2006.6L933.5 2009.0L933.5 2011.5L935.9 2013.9L935.9 2016.4M935.9 2016.4L938.4 2016.4L940.8 2018.8L943.3 2018.8" fill="none" stroke="#2fae2f" stroke-width="2.6" stroke-dasharray="2.6 5.0" stroke-linecap="butt"/>
<path d="M164.2 1915.9L164.2 1930.6L166.6 1933.1L166.6 1960.0L169.1 1962.5L169.1 1989.4L171.5 1991.9L171.5 2006.6M193.6 2004.1L193.6 2006.6L196.0 2009.0L196.0 2011.5L198.5 2013.9L198.5 2016.4L200.9 2018.8M419.0 1991.9L419.0 1989.4L421.4 1987.0L421.4 1982.1L423.9 1979.6L423.9 1977.2M423.9 1977.2L428.8 1982.1L428.8 1984.5L433.7 1989.4M433.7 1989.4L433.7 1987.0L436.1 1984.5L436.1 1979.6L438.6 1977.2L438.6 1974.7M438.6 1974.7L441.0 1977.2L441.0 1979.6L445.9 1984.5L445.9 1987.0L448.4 1989.4M448.4 1989.4L448.4 1977.2L450.8 1974.7L450.8 1952.7L453.3 1950.2L453.3 1938.0M453.3 1938.0L453.3 1940.4L455.7 1942.9L455.7 1950.2L458.2 1952.7L458.2 1957.6L460.6 1960.0L460.6 1967.4L463.1 1969.8L463.1 1972.3M463.1 1972.3L463.1 1964.9L465.5 1962.5L465.5 1947.8L468.0 1945.3L468.0 1938.0M472.9 1930.6L472.9 1933.1L475.3 1935.5L475.3 1938.0L477.8 1940.4L477.8 1942.9L480.2 1945.3L480.2 1947.8M480.2 1947.8L480.2 1940.4L482.7 1938.0L482.7 1925.7L485.1 1923.3L485.1 1918.4M492.5 1908.6L492.5 1911.0L494.9 1913.5L494.9 1915.9L497.4 1918.4L497.4 1920.8L499.8 1923.3L499.8 1925.7M499.8 1925.7L499.8 1842.4L502.3 1840.0L502.3 1673.4L504.7 1670.9L504.7 1506.8L507.2 1504.3L507.2 1337.7L509.6 1335.2L509.6 1252.0M509.6 1252.0L509.6 1293.6L512.1 1296.1L512.1 1379.4L514.5 1381.8L514.5 1465.1L517.0 1467.6L517.0 1550.9L519.4 1553.3L519.4 1634.2L521.9 1636.6L521.9 1719.9L524.3 1722.4L524.3 1805.7L526.8 1808.1L526.8 1849.8M526.8 1849.8L526.8 1857.1L529.2 1859.6L529.2 1876.7L531.7 1879.2L531.7 1896.3L534.1 1898.8L534.1 1906.1M534.1 1906.1L534.1 1918.4L536.6 1920.8L536.6 1942.9L539.0 1945.3L539.0 1955.1M539.0 1955.1L541.5 1952.7L541.5 1950.2L543.9 1947.8L543.9 1945.3L546.4 1942.9L546.4 1940.4L548.8 1938.0M548.8 1938.0L548.8 1942.9L551.2 1945.3L551.2 1952.7L553.7 1955.1L553.7 1962.5L556.2 1964.9L556.2 1967.4M573.3 1979.6L573.3 1982.1L575.8 1984.5L575.8 1989.4L578.2 1991.9L578.2 1994.3M578.2 1994.3L578.2 1991.9L580.7 1989.4L580.7 1987.0L583.1 1984.5L583.1 1982.1M744.8 2013.9L747.2 2011.5L747.2 2009.0L749.7 2006.6L749.7 2004.1L752.2 2001.7L752.2 1999.2L754.6 1996.8L754.6 1994.3L757.1 1991.9M757.1 1991.9L759.5 1994.3L759.5 1996.8L762.0 1999.2L762.0 2001.7L764.4 2004.1L764.4 2006.6L766.9 2009.0L766.9 2011.5L769.3 2013.9M769.3 2013.9L776.7 2006.6L779.1 2006.6L786.5 1999.2M796.3 2004.1L796.3 2001.7L798.7 1999.2L798.7 1991.9L801.2 1989.4L801.2 1987.0M801.2 1987.0L801.2 1989.4L803.6 1991.9L803.6 1994.3L806.1 1996.8L806.1 1999.2L808.5 2001.7L808.5 2004.1L811.0 2006.6M879.6 1984.5L879.6 1987.0L882.0 1989.4L882.0 1996.8L884.5 1999.2L884.5 2004.1L886.9 2006.6L886.9 2009.0M886.9 2009.0L886.9 2004.1L889.4 2001.7L889.4 1991.9L891.8 1989.4L891.8 1982.1L894.3 1979.6L894.3 1974.7M894.3 1974.7L894.3 1967.4L896.7 1964.9L896.7 1952.7L899.2 1950.2L899.2 1935.5L901.6 1933.1L901.6 1920.8L904.1 1918.4L904.1 1911.0M904.1 1911.0L904.1 1918.4L906.5 1920.8L906.5 1938.0L909.0 1940.4L909.0 1957.6L911.4 1960.0L911.4 1967.4M911.4 1967.4L911.4 1964.9L913.9 1962.5L913.9 1960.0L916.3 1957.6L916.3 1955.1L918.8 1952.7M918.8 1952.7L918.8 1918.4L921.2 1915.9L921.2 1847.3L923.7 1844.9L923.7 1778.7L926.1 1776.3L926.1 1742.0M926.1 1742.0L926.1 1761.6L928.6 1764.0L928.6 1800.8L931.0 1803.2L931.0 1840.0L933.5 1842.4L933.5 1881.6L935.9 1884.1L935.9 1920.8L938.4 1923.3L938.4 1960.0L940.8 1962.5L940.8 1982.1M958.0 1987.0L958.0 1996.8L960.4 1999.2L960.4 2006.6M1232.4 1991.9L1232.4 1989.4L1234.8 1987.0L1234.8 1984.5L1237.2 1982.1L1237.2 1979.6L1239.7 1977.2M1239.7 1977.2L1239.7 1979.6L1242.2 1982.1L1242.2 1984.5L1244.6 1987.0L1244.6 1989.4L1247.1 1991.9L1247.1 1994.3L1249.5 1996.8L1249.5 1999.2" fill="none" stroke="#2b2e96" stroke-width="2.8" stroke-dasharray="9.0 28.0" stroke-linecap="butt"/>
<path d="M171.5 2006.6L174.0 2009.0L174.0 2011.5L176.4 2013.9M176.4 2013.9L178.9 2013.9L181.3 2016.4L183.8 2016.4M183.8 2016.4L186.2 2013.9L188.7 2013.9L191.1 2011.5M191.1 2011.5L191.1 2009.0L193.6 2006.6L193.6 2004.1M200.9 2018.8L208.3 2011.5M208.3 2011.5L210.7 2011.5L213.2 2009.0M213.2 2009.0L225.4 2009.0M225.4 2009.0L227.9 2009.0L230.3 2006.6M230.3 2006.6L235.2 2011.5M235.2 2011.5L237.7 2013.9L237.7 2016.4L240.1 2018.8M240.1 2018.8L242.6 2016.4L242.6 2013.9L245.0 2011.5M245.0 2011.5L247.5 2011.5L249.9 2009.0L252.4 2009.0L254.8 2006.6M254.8 2006.6L257.2 2006.6L259.7 2009.0L262.2 2009.0M262.2 2009.0L264.6 2009.0L267.1 2006.6L269.5 2006.6M269.5 2006.6L272.0 2004.1L274.4 2004.1L276.9 2001.7M276.9 2001.7L279.3 2004.1L281.8 2004.1L284.2 2006.6M284.2 2006.6L301.4 2006.6M301.4 2006.6L306.2 2001.7M306.2 2001.7L321.0 2001.7M321.0 2001.7L321.0 2004.1L323.4 2006.6M323.4 2006.6L333.2 2006.6M333.2 2006.6L335.7 2004.1L338.1 2004.1L340.6 2001.7M340.6 2001.7L343.0 2004.1L345.5 2004.1L347.9 2006.6M347.9 2006.6L350.4 2006.6L352.8 2009.0M352.8 2009.0L357.7 2009.0L360.2 2011.5L362.6 2011.5M362.6 2011.5L365.1 2009.0L367.5 2009.0L370.0 2006.6M370.0 2006.6L372.4 2009.0L374.9 2009.0L377.3 2011.5M377.3 2011.5L379.8 2013.9L382.2 2013.9L387.1 2018.8M387.1 2018.8L389.6 2016.4L389.6 2013.9L392.0 2011.5M392.0 2011.5L394.5 2009.0L394.5 2006.6L396.9 2004.1M396.9 2004.1L399.4 2004.1L401.8 2001.7L404.3 2001.7L406.7 1999.2M406.7 1999.2L409.2 1999.2L411.6 1996.8L414.1 1996.8M414.1 1996.8L419.0 1991.9M468.0 1938.0L470.4 1935.5L470.4 1933.1L472.9 1930.6M485.1 1918.4L487.6 1915.9L487.6 1913.5L492.5 1908.6M556.2 1967.4L558.6 1969.8L561.1 1969.8L566.0 1974.7M566.0 1974.7L568.4 1977.2L570.9 1977.2L573.3 1979.6M583.1 1982.1L585.6 1979.6L588.0 1979.6L590.5 1977.2L592.9 1977.2L595.4 1974.7M595.4 1974.7L597.8 1977.2L597.8 1979.6L600.2 1982.1M600.2 1982.1L602.7 1984.5L602.7 1987.0L605.2 1989.4M607.6 2001.7L610.1 2001.7L612.5 1999.2M612.5 1999.2L632.1 1999.2M632.1 1999.2L634.6 1999.2L637.0 2001.7M637.0 2001.7L649.2 2001.7M649.2 2001.7L651.7 2001.7L654.2 1999.2M654.2 1999.2L656.6 2001.7L659.1 2001.7L664.0 2006.6M664.0 2006.6L671.3 2006.6M671.3 2006.6L678.7 2006.6L681.1 2004.1L686.0 2004.1M686.0 2004.1L688.5 2004.1L690.9 2006.6L693.4 2006.6M693.4 2006.6L695.8 2004.1L698.2 2004.1L700.7 2001.7M700.7 2001.7L703.2 2001.7L705.6 2004.1L708.1 2004.1L710.5 2006.6M710.5 2006.6L713.0 2006.6L715.4 2009.0L717.9 2009.0M717.9 2009.0L720.3 2006.6L722.8 2006.6L725.2 2004.1M725.2 2004.1L735.0 2004.1M735.0 2004.1L739.9 2009.0M739.9 2009.0L744.8 2013.9M786.5 1999.2L788.9 1999.2L791.4 2001.7L793.8 2001.7L796.3 2004.1M811.0 2006.6L813.4 2004.1L815.9 2004.1L820.8 1999.2M820.8 1999.2L825.7 2004.1M825.7 2004.1L828.1 2001.7L830.6 2001.7L835.5 1996.8M835.5 1996.8L837.9 1996.8L840.4 1999.2L842.8 1999.2L845.3 2001.7M845.3 2001.7L847.7 2004.1L847.7 2006.6L852.6 2011.5M855.1 1977.2L857.5 1974.7L860.0 1974.7L862.4 1972.3M862.4 1972.3L867.3 1972.3M867.3 1972.3L869.8 1974.7L872.2 1974.7L874.7 1977.2M874.7 1977.2L877.1 1979.6L877.1 1982.1L879.6 1984.5M940.8 1982.1L948.2 1974.7M948.2 1974.7L953.1 1979.6M953.1 1979.6L955.5 1982.1L955.5 1984.5L958.0 1987.0M960.4 2006.6L972.7 2006.6M972.7 2006.6L975.1 2006.6L977.6 2009.0L980.0 2009.0L982.5 2011.5M982.5 2011.5L987.4 2011.5L989.8 2013.9L992.3 2013.9M992.3 2013.9L997.2 2013.9L999.6 2011.5L1002.1 2011.5M1002.1 2011.5L1009.4 2004.1M1009.4 2004.1L1011.9 2004.1L1014.3 2006.6L1016.8 2006.6M1016.8 2006.6L1019.2 2006.6L1021.7 2009.0L1024.1 2009.0M1024.1 2009.0L1031.5 2009.0M1031.5 2009.0L1033.9 2011.5L1036.4 2011.5L1038.8 2013.9M1038.8 2013.9L1043.7 2013.9L1046.2 2016.4L1048.6 2016.4M1048.6 2016.4L1056.0 2016.4M1056.0 2016.4L1060.9 2016.4L1063.3 2013.9L1065.8 2013.9M1065.8 2013.9L1078.0 2013.9M1078.0 2013.9L1082.9 2013.9L1085.4 2016.4L1087.8 2016.4M1087.8 2016.4L1092.7 2016.4L1095.2 2013.9L1100.1 2013.9M1100.1 2013.9L1102.5 2013.9L1105.0 2011.5L1107.4 2011.5M1107.4 2011.5L1109.9 2011.5L1112.3 2013.9L1114.8 2013.9L1117.2 2016.4M1117.2 2016.4L1119.7 2013.9L1122.1 2013.9L1124.6 2011.5M1124.6 2011.5L1127.0 2011.5L1129.5 2013.9L1131.9 2013.9M1131.9 2013.9L1141.7 2013.9M1141.7 2013.9L1144.2 2013.9L1146.6 2011.5M1146.6 2011.5L1149.1 2013.9L1151.5 2013.9L1154.0 2016.4M1154.0 2016.4L1166.2 2016.4M1166.2 2016.4L1168.7 2013.9L1168.7 2011.5L1173.6 2006.6M1173.6 2006.6L1176.0 2006.6L1178.5 2009.0M1178.5 2009.0L1188.2 2009.0M1188.2 2009.0L1190.7 2011.5L1193.2 2011.5L1195.6 2013.9M1195.6 2013.9L1200.5 2009.0M1200.5 2009.0L1210.3 2009.0M1210.3 2009.0L1217.7 2001.7M1217.7 2001.7L1222.6 2006.6M1222.6 2006.6L1225.0 2004.1L1227.5 2004.1L1229.9 2001.7M1229.9 2001.7L1229.9 1996.8L1232.4 1994.3L1232.4 1991.9M1249.5 1999.2L1252.0 2001.7L1254.4 2001.7L1256.9 2004.1M1256.9 2004.1L1259.3 2004.1L1261.8 2006.6L1264.2 2006.6M1264.2 2006.6L1266.7 2004.1L1269.1 2004.1L1271.6 2001.7M1271.6 2001.7L1274.0 2001.7L1276.5 2004.1L1278.9 2004.1M1278.9 2004.1L1281.4 2006.6L1281.4 2009.0L1286.2 2013.9M1286.2 2013.9L1293.6 2013.9L1296.1 2016.4L1303.4 2016.4M1303.4 2016.4L1305.9 2016.4L1308.3 2013.9L1310.8 2013.9" fill="none" stroke="#2b2e96" stroke-width="2.8" stroke-linecap="square"/>
</g>
<g id="labels" filter="url(#soft3)">
<text x="174.5" y="985.3" font-family="'Liberation Serif', serif" font-size="56" fill="#0e1313" text-anchor="middle" style="white-space:pre">0.0</text>
<text x="369.5" y="985.3" font-family="'Liberation Serif', serif" font-size="56" fill="#0e1313" text-anchor="middle" style="white-space:pre">5.0</text>
<text x="550.8" y="985.3" font-family="'Liberation Serif', serif" font-size="56" fill="#0e1313" text-anchor="middle" style="white-space:pre">10.0</text>
<text x="735.5" y="985.3" font-family="'Liberation Serif', serif" font-size="56" fill="#0e1313" text-anchor="middle" style="white-space:pre">15.0</text>
<text x="930.0" y="985.3" font-family="'Liberation Serif', serif" font-size="56" fill="#0e1313" text-anchor="middle" style="white-space:pre">20.0</text>
<text x="1118.5" y="985.3" font-family="'Liberation Serif', serif" font-size="56" fill="#0e1313" text-anchor="middle" style="white-space:pre">25.0</text>
<text x="1316.0" y="985.3" font-family="'Liberation Serif', serif" font-size="56" fill="#0e1313" text-anchor="middle" style="white-space:pre">30.0</text>
<text x="122.6" y="116.5" font-family="'Liberation Serif', serif" font-size="56" fill="#0e1313" text-anchor="middle" transform="rotate(-90 122.6 116.5)" style="white-space:pre">30</text>
<text x="122.6" y="273.5" font-family="'Liberation Serif', serif" font-size="56" fill="#0e1313" text-anchor="middle" transform="rotate(-90 122.6 273.5)" style="white-space:pre">20</text>
<text x="122.6" y="428.5" font-family="'Liberation Serif', serif" font-size="56" fill="#0e1313" text-anchor="middle" transform="rotate(-90 122.6 428.5)" style="white-space:pre">10</text>
<text x="122.6" y="588.0" font-family="'Liberation Serif', serif" font-size="56" fill="#0e1313" text-anchor="middle" transform="rotate(-90 122.6 588.0)" style="white-space:pre">0</text>
<text x="122.6" y="750.0" font-family="'Liberation Serif', serif" font-size="56" fill="#0e1313" text-anchor="middle" transform="rotate(-90 122.6 750.0)" style="white-space:pre">-10</text>
<text x="122.6" y="908.3" font-family="'Liberation Serif', serif" font-size="56" fill="#0e1313" text-anchor="middle" transform="rotate(-90 122.6 908.3)" style="white-space:pre">-20</text>
<g transform="translate(43.8 705.5) rotate(-90)">
<text x="1" y="0" font-family="'Liberation Serif', serif" font-size="55" fill="#0e1313" text-anchor="start" font-style="italic" style="white-space:pre">E Field</text>
<text x="180.7" y="0" font-family="'Liberation Serif', serif" font-size="56" fill="#0e1313" text-anchor="start" style="white-space:pre">(</text>
<text x="198.3" y="0" font-family="'Liberation Serif', serif" font-size="56" fill="#0e1313" text-anchor="start" font-style="italic" style="white-space:pre">MV/m</text>
<text x="334.3" y="0" font-family="'Liberation Serif', serif" font-size="56" fill="#0e1313" text-anchor="start" style="white-space:pre">)</text>
</g>
<text x="683.7" y="1041.4" font-family="'Liberation Serif', serif" font-size="56" fill="#0e1313" text-anchor="start" font-style="italic" style="white-space:pre">t</text>
<text x="712.6" y="1041.4" font-family="'Liberation Serif', serif" font-size="56" fill="#0e1313" text-anchor="start" style="white-space:pre">(</text>
<text x="730.9" y="1041.4" font-family="'Liberation Serif', serif" font-size="56" fill="#0e1313" text-anchor="start" font-style="italic" style="white-space:pre">ns</text>
<text x="780" y="1041.4" font-family="'Liberation Serif', serif" font-size="56" fill="#0e1313" text-anchor="start" style="white-space:pre">)</text>
<text x="1357" y="60" font-family="'Liberation Sans', sans-serif" font-size="72.5" fill="#000" text-anchor="middle" font-weight="bold" style="white-space:pre">a)</text>
<text x="1394" y="177" font-family="'Liberation Serif', serif" font-size="56" fill="#2b2e96" text-anchor="middle" font-style="italic" transform="rotate(-90 1394 177)" style="white-space:pre">Ez</text>
<text x="1394" y="511" font-family="'Liberation Serif', serif" font-size="56" fill="#2b2e96" text-anchor="middle" font-style="italic" transform="rotate(-90 1394 511)" style="white-space:pre">Et</text>
<text x="1394" y="809.1" font-family="'Liberation Serif', serif" font-size="56" fill="#2b2e96" text-anchor="middle" font-style="italic" transform="rotate(-90 1394 809.1)" style="white-space:pre">Er</text>
<line x1="1387.8" y1="226" x2="1387.8" y2="234.8" stroke="#2b2e96" stroke-width="3.6"/>
<line x1="1387.8" y1="263.5" x2="1387.8" y2="272.4" stroke="#2b2e96" stroke-width="3.6"/>
<rect x="1386.3" y="547.3" width="3" height="3" rx="0.8" fill="#2fae2f"/>
<rect x="1386.3" y="556.5999999999999" width="3" height="3" rx="0.8" fill="#2fae2f"/>
<rect x="1386.3" y="565.9" width="3" height="3" rx="0.8" fill="#2fae2f"/>
<rect x="1386.3" y="575.1999999999999" width="3" height="3" rx="0.8" fill="#2fae2f"/>
<rect x="1386.3" y="584.5" width="3" height="3" rx="0.8" fill="#2fae2f"/>
<rect x="1386.3" y="593.8" width="3" height="3" rx="0.8" fill="#2fae2f"/>
<line x1="1387.8" y1="867.6" x2="1387.8" y2="920.3" stroke="#0ab3ba" stroke-width="3.2"/>
<text x="161.0" y="2093.5" font-family="'Liberation Serif', serif" font-size="56" fill="#0e1313" text-anchor="middle" style="white-space:pre">0.0</text>
<text x="396.0" y="2093.5" font-family="'Liberation Serif', serif" font-size="56" fill="#0e1313" text-anchor="middle" style="white-space:pre">1.0</text>
<text x="627.5" y="2093.5" font-family="'Liberation Serif', serif" font-size="56" fill="#0e1313" text-anchor="middle" style="white-space:pre">2.0</text>
<text x="856.0" y="2093.5" font-family="'Liberation Serif', serif" font-size="56" fill="#0e1313" text-anchor="middle" style="white-space:pre">3.0</text>
<text x="1088.5" y="2093.5" font-family="'Liberation Serif', serif" font-size="56" fill="#0e1313" text-anchor="middle" style="white-space:pre">4.0</text>
<text x="1321.0" y="2093.5" font-family="'Liberation Serif', serif" font-size="56" fill="#0e1313" text-anchor="middle" style="white-space:pre">5.0</text>
<text x="122.6" y="1236.5" font-family="'Liberation Serif', serif" font-size="56" fill="#0e1313" text-anchor="middle" transform="rotate(-90 122.6 1236.5)" style="white-space:pre">8</text>
<text x="122.6" y="1430.2" font-family="'Liberation Serif', serif" font-size="56" fill="#0e1313" text-anchor="middle" transform="rotate(-90 122.6 1430.2)" style="white-space:pre">6</text>
<text x="122.6" y="1625.2" font-family="'Liberation Serif', serif" font-size="56" fill="#0e1313" text-anchor="middle" transform="rotate(-90 122.6 1625.2)" style="white-space:pre">4</text>
<text x="122.6" y="1840.0" font-family="'Liberation Serif', serif" font-size="56" fill="#0e1313" text-anchor="middle" transform="rotate(-90 122.6 1840.0)" style="white-space:pre">2</text>
<text x="122.6" y="2030.7" font-family="'Liberation Serif', serif" font-size="56" fill="#0e1313" text-anchor="middle" transform="rotate(-90 122.6 2030.7)" style="white-space:pre">0</text>
<g transform="translate(43.8 1822.3) rotate(-90)">
<text x="3" y="0" font-family="'Liberation Serif', serif" font-size="55" fill="#0e1313" text-anchor="start" font-style="italic" style="white-space:pre">Amplitude</text>
<text x="254.9" y="0" font-family="'Liberation Serif', serif" font-size="56" fill="#0e1313" text-anchor="start" style="white-space:pre">(</text>
<text x="272.5" y="0" font-family="'Liberation Serif', serif" font-size="56" fill="#0e1313" text-anchor="start" font-style="italic" style="white-space:pre">MV/m</text>
<text x="409" y="0" font-family="'Liberation Serif', serif" font-size="56" fill="#0e1313" text-anchor="start" style="white-space:pre">)</text>
</g>
<text x="662" y="2151.4" font-family="'Liberation Serif', serif" font-size="56" fill="#0e1313" text-anchor="start" font-style="italic" style="white-space:pre">f</text>
<text x="699" y="2151.4" font-family="'Liberation Serif', serif" font-size="56" fill="#0e1313" text-anchor="start" style="white-space:pre">(</text>
<text x="717" y="2151.4" font-family="'Liberation Serif', serif" font-size="54.5" fill="#0e1313" text-anchor="start" font-style="italic" style="white-space:pre">GHz</text>
<text x="819" y="2151.4" font-family="'Liberation Serif', serif" font-size="56" fill="#0e1313" text-anchor="start" style="white-space:pre">)</text>
<text x="1355.5" y="1160.4" font-family="'Liberation Sans', sans-serif" font-size="72.5" fill="#000" text-anchor="middle" font-weight="bold" style="white-space:pre">b)</text>
<text x="1394" y="1297" font-family="'Liberation Serif', serif" font-size="56" fill="#2b2e96" text-anchor="middle" font-style="italic" transform="rotate(-90 1394 1297)" style="white-space:pre">Ez</text>
<text x="1394" y="1631.5" font-family="'Liberation Serif', serif" font-size="56" fill="#2b2e96" text-anchor="middle" font-style="italic" transform="rotate(-90 1394 1631.5)" style="white-space:pre">Et</text>
<text x="1394" y="1928" font-family="'Liberation Serif', serif" font-size="56" fill="#2b2e96" text-anchor="middle" font-style="italic" transform="rotate(-90 1394 1928)" style="white-space:pre">Er</text>
<line x1="1384.4" y1="1344.1" x2="1384.4" y2="1353.4" stroke="#2b2e96" stroke-width="3.6"/>
<line x1="1384.4" y1="1380.6" x2="1384.4" y2="1390.3" stroke="#2b2e96" stroke-width="3.6"/>
<rect x="1382.9" y="1665.8" width="3" height="3" rx="0.8" fill="#2fae2f"/>
<rect x="1382.9" y="1675.1" width="3" height="3" rx="0.8" fill="#2fae2f"/>
<rect x="1382.9" y="1684.3999999999999" width="3" height="3" rx="0.8" fill="#2fae2f"/>
<rect x="1382.9" y="1693.7" width="3" height="3" rx="0.8" fill="#2fae2f"/>
<rect x="1382.9" y="1703.0" width="3" height="3" rx="0.8" fill="#2fae2f"/>
<rect x="1382.9" y="1712.3" width="3" height="3" rx="0.8" fill="#2fae2f"/>
<line x1="1384.4" y1="1985.5" x2="1384.4" y2="2039" stroke="#0ab3ba" stroke-width="3.2"/>
<text x="622.8" y="1306" font-family="'Liberation Serif', serif" font-size="55.3" fill="#e81c24" text-anchor="middle" font-style="italic" style="white-space:pre">1.53 GHz</text>
<text x="1039.6" y="1688.6" font-family="'Liberation Serif', serif" font-size="55.6" fill="#e81c24" text-anchor="middle" font-style="italic" style="white-space:pre">3.29 GHz</text>
</g>
</svg>
</body></html>
